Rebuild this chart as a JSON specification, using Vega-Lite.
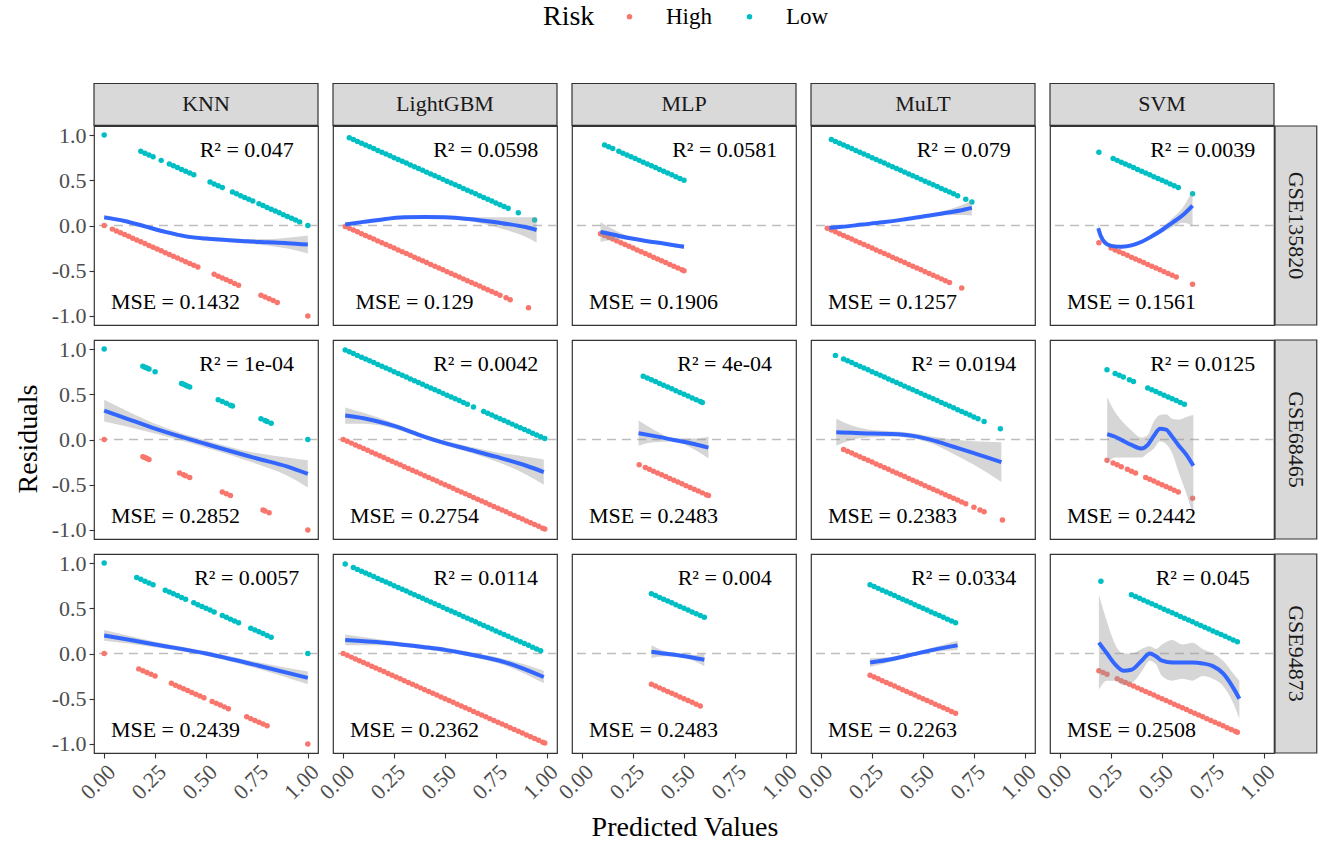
{
"$schema":"https://vega.github.io/schema/vega-lite/v6.json",
"background":"white",
"padding":{"left":14,"top":5,"right":4,"bottom":2},
"bounds":"flush",
"data":{"values":[
{"m":"KNN","g":"GSE135820","r":"Low","x":0,"y":1},{"m":"KNN","g":"GSE135820","r":"Low","x":0.18,"y":0.82},{"m":"KNN","g":"GSE135820","r":"Low","x":0.2,"y":0.8},{"m":"KNN","g":"GSE135820","r":"Low","x":0.22,"y":0.78},{"m":"KNN","g":"GSE135820","r":"Low","x":0.24,"y":0.76},{"m":"KNN","g":"GSE135820","r":"Low","x":0.28,"y":0.72},{"m":"KNN","g":"GSE135820","r":"Low","x":0.32,"y":0.68},{"m":"KNN","g":"GSE135820","r":"Low","x":0.34,"y":0.66},{"m":"KNN","g":"GSE135820","r":"Low","x":0.36,"y":0.64},{"m":"KNN","g":"GSE135820","r":"Low","x":0.38,"y":0.62},{"m":"KNN","g":"GSE135820","r":"Low","x":0.4,"y":0.6},{"m":"KNN","g":"GSE135820","r":"Low","x":0.42,"y":0.58},{"m":"KNN","g":"GSE135820","r":"Low","x":0.44,"y":0.56},{"m":"KNN","g":"GSE135820","r":"Low","x":0.52,"y":0.48},{"m":"KNN","g":"GSE135820","r":"Low","x":0.54,"y":0.46},{"m":"KNN","g":"GSE135820","r":"Low","x":0.56,"y":0.44},{"m":"KNN","g":"GSE135820","r":"Low","x":0.58,"y":0.42},{"m":"KNN","g":"GSE135820","r":"Low","x":0.63,"y":0.37},{"m":"KNN","g":"GSE135820","r":"Low","x":0.65,"y":0.35},{"m":"KNN","g":"GSE135820","r":"Low","x":0.67,"y":0.33},{"m":"KNN","g":"GSE135820","r":"Low","x":0.69,"y":0.31},{"m":"KNN","g":"GSE135820","r":"Low","x":0.71,"y":0.29},{"m":"KNN","g":"GSE135820","r":"Low","x":0.73,"y":0.27},{"m":"KNN","g":"GSE135820","r":"Low","x":0.76,"y":0.24},{"m":"KNN","g":"GSE135820","r":"Low","x":0.78,"y":0.22},{"m":"KNN","g":"GSE135820","r":"Low","x":0.8,"y":0.2},{"m":"KNN","g":"GSE135820","r":"Low","x":0.82,"y":0.18},{"m":"KNN","g":"GSE135820","r":"Low","x":0.84,"y":0.16},{"m":"KNN","g":"GSE135820","r":"Low","x":0.86,"y":0.14},{"m":"KNN","g":"GSE135820","r":"Low","x":0.88,"y":0.12},{"m":"KNN","g":"GSE135820","r":"Low","x":0.9,"y":0.1},{"m":"KNN","g":"GSE135820","r":"Low","x":0.92,"y":0.08},{"m":"KNN","g":"GSE135820","r":"Low","x":0.94,"y":0.06},{"m":"KNN","g":"GSE135820","r":"Low","x":0.96,"y":0.04},{"m":"KNN","g":"GSE135820","r":"Low","x":1,"y":0},
{"m":"KNN","g":"GSE135820","r":"High","x":0,"y":0},{"m":"KNN","g":"GSE135820","r":"High","x":0.04,"y":-0.04},{"m":"KNN","g":"GSE135820","r":"High","x":0.06,"y":-0.06},{"m":"KNN","g":"GSE135820","r":"High","x":0.08,"y":-0.08},{"m":"KNN","g":"GSE135820","r":"High","x":0.1,"y":-0.1},{"m":"KNN","g":"GSE135820","r":"High","x":0.12,"y":-0.12},{"m":"KNN","g":"GSE135820","r":"High","x":0.14,"y":-0.14},{"m":"KNN","g":"GSE135820","r":"High","x":0.16,"y":-0.16},{"m":"KNN","g":"GSE135820","r":"High","x":0.18,"y":-0.18},{"m":"KNN","g":"GSE135820","r":"High","x":0.2,"y":-0.2},{"m":"KNN","g":"GSE135820","r":"High","x":0.22,"y":-0.22},{"m":"KNN","g":"GSE135820","r":"High","x":0.24,"y":-0.24},{"m":"KNN","g":"GSE135820","r":"High","x":0.26,"y":-0.26},{"m":"KNN","g":"GSE135820","r":"High","x":0.28,"y":-0.28},{"m":"KNN","g":"GSE135820","r":"High","x":0.3,"y":-0.3},{"m":"KNN","g":"GSE135820","r":"High","x":0.32,"y":-0.32},{"m":"KNN","g":"GSE135820","r":"High","x":0.34,"y":-0.34},{"m":"KNN","g":"GSE135820","r":"High","x":0.36,"y":-0.36},{"m":"KNN","g":"GSE135820","r":"High","x":0.38,"y":-0.38},{"m":"KNN","g":"GSE135820","r":"High","x":0.4,"y":-0.4},{"m":"KNN","g":"GSE135820","r":"High","x":0.42,"y":-0.42},{"m":"KNN","g":"GSE135820","r":"High","x":0.44,"y":-0.44},{"m":"KNN","g":"GSE135820","r":"High","x":0.46,"y":-0.46},{"m":"KNN","g":"GSE135820","r":"High","x":0.54,"y":-0.54},{"m":"KNN","g":"GSE135820","r":"High","x":0.56,"y":-0.56},{"m":"KNN","g":"GSE135820","r":"High","x":0.58,"y":-0.58},{"m":"KNN","g":"GSE135820","r":"High","x":0.6,"y":-0.6},{"m":"KNN","g":"GSE135820","r":"High","x":0.62,"y":-0.62},{"m":"KNN","g":"GSE135820","r":"High","x":0.64,"y":-0.64},{"m":"KNN","g":"GSE135820","r":"High","x":0.66,"y":-0.66},{"m":"KNN","g":"GSE135820","r":"High","x":0.77,"y":-0.77},{"m":"KNN","g":"GSE135820","r":"High","x":0.79,"y":-0.79},{"m":"KNN","g":"GSE135820","r":"High","x":0.81,"y":-0.81},{"m":"KNN","g":"GSE135820","r":"High","x":0.83,"y":-0.83},{"m":"KNN","g":"GSE135820","r":"High","x":0.85,"y":-0.85},{"m":"KNN","g":"GSE135820","r":"High","x":1,"y":-1},
{"m":"LightGBM","g":"GSE135820","r":"Low","x":0.03,"y":0.97},{"m":"LightGBM","g":"GSE135820","r":"Low","x":0.05,"y":0.95},{"m":"LightGBM","g":"GSE135820","r":"Low","x":0.07,"y":0.93},{"m":"LightGBM","g":"GSE135820","r":"Low","x":0.09,"y":0.91},{"m":"LightGBM","g":"GSE135820","r":"Low","x":0.11,"y":0.89},{"m":"LightGBM","g":"GSE135820","r":"Low","x":0.13,"y":0.87},{"m":"LightGBM","g":"GSE135820","r":"Low","x":0.15,"y":0.85},{"m":"LightGBM","g":"GSE135820","r":"Low","x":0.17,"y":0.83},{"m":"LightGBM","g":"GSE135820","r":"Low","x":0.19,"y":0.81},{"m":"LightGBM","g":"GSE135820","r":"Low","x":0.21,"y":0.79},{"m":"LightGBM","g":"GSE135820","r":"Low","x":0.23,"y":0.77},{"m":"LightGBM","g":"GSE135820","r":"Low","x":0.25,"y":0.75},{"m":"LightGBM","g":"GSE135820","r":"Low","x":0.27,"y":0.73},{"m":"LightGBM","g":"GSE135820","r":"Low","x":0.29,"y":0.71},{"m":"LightGBM","g":"GSE135820","r":"Low","x":0.31,"y":0.69},{"m":"LightGBM","g":"GSE135820","r":"Low","x":0.33,"y":0.67},{"m":"LightGBM","g":"GSE135820","r":"Low","x":0.35,"y":0.65},{"m":"LightGBM","g":"GSE135820","r":"Low","x":0.37,"y":0.63},{"m":"LightGBM","g":"GSE135820","r":"Low","x":0.39,"y":0.61},{"m":"LightGBM","g":"GSE135820","r":"Low","x":0.41,"y":0.59},{"m":"LightGBM","g":"GSE135820","r":"Low","x":0.43,"y":0.57},{"m":"LightGBM","g":"GSE135820","r":"Low","x":0.45,"y":0.55},{"m":"LightGBM","g":"GSE135820","r":"Low","x":0.47,"y":0.53},{"m":"LightGBM","g":"GSE135820","r":"Low","x":0.49,"y":0.51},{"m":"LightGBM","g":"GSE135820","r":"Low","x":0.51,"y":0.49},{"m":"LightGBM","g":"GSE135820","r":"Low","x":0.53,"y":0.47},{"m":"LightGBM","g":"GSE135820","r":"Low","x":0.55,"y":0.45},{"m":"LightGBM","g":"GSE135820","r":"Low","x":0.57,"y":0.43},{"m":"LightGBM","g":"GSE135820","r":"Low","x":0.59,"y":0.41},{"m":"LightGBM","g":"GSE135820","r":"Low","x":0.61,"y":0.39},{"m":"LightGBM","g":"GSE135820","r":"Low","x":0.63,"y":0.37},{"m":"LightGBM","g":"GSE135820","r":"Low","x":0.65,"y":0.35},{"m":"LightGBM","g":"GSE135820","r":"Low","x":0.67,"y":0.33},{"m":"LightGBM","g":"GSE135820","r":"Low","x":0.69,"y":0.31},{"m":"LightGBM","g":"GSE135820","r":"Low","x":0.71,"y":0.29},{"m":"LightGBM","g":"GSE135820","r":"Low","x":0.73,"y":0.27},{"m":"LightGBM","g":"GSE135820","r":"Low","x":0.75,"y":0.25},{"m":"LightGBM","g":"GSE135820","r":"Low","x":0.77,"y":0.23},{"m":"LightGBM","g":"GSE135820","r":"Low","x":0.79,"y":0.21},{"m":"LightGBM","g":"GSE135820","r":"Low","x":0.81,"y":0.19},{"m":"LightGBM","g":"GSE135820","r":"Low","x":0.86,"y":0.14},{"m":"LightGBM","g":"GSE135820","r":"Low","x":0.94,"y":0.06},
{"m":"LightGBM","g":"GSE135820","r":"High","x":0.01,"y":-0.01},{"m":"LightGBM","g":"GSE135820","r":"High","x":0.03,"y":-0.03},{"m":"LightGBM","g":"GSE135820","r":"High","x":0.05,"y":-0.05},{"m":"LightGBM","g":"GSE135820","r":"High","x":0.07,"y":-0.07},{"m":"LightGBM","g":"GSE135820","r":"High","x":0.09,"y":-0.09},{"m":"LightGBM","g":"GSE135820","r":"High","x":0.11,"y":-0.11},{"m":"LightGBM","g":"GSE135820","r":"High","x":0.13,"y":-0.13},{"m":"LightGBM","g":"GSE135820","r":"High","x":0.15,"y":-0.15},{"m":"LightGBM","g":"GSE135820","r":"High","x":0.17,"y":-0.17},{"m":"LightGBM","g":"GSE135820","r":"High","x":0.19,"y":-0.19},{"m":"LightGBM","g":"GSE135820","r":"High","x":0.21,"y":-0.21},{"m":"LightGBM","g":"GSE135820","r":"High","x":0.23,"y":-0.23},{"m":"LightGBM","g":"GSE135820","r":"High","x":0.25,"y":-0.25},{"m":"LightGBM","g":"GSE135820","r":"High","x":0.27,"y":-0.27},{"m":"LightGBM","g":"GSE135820","r":"High","x":0.29,"y":-0.29},{"m":"LightGBM","g":"GSE135820","r":"High","x":0.31,"y":-0.31},{"m":"LightGBM","g":"GSE135820","r":"High","x":0.33,"y":-0.33},{"m":"LightGBM","g":"GSE135820","r":"High","x":0.35,"y":-0.35},{"m":"LightGBM","g":"GSE135820","r":"High","x":0.37,"y":-0.37},{"m":"LightGBM","g":"GSE135820","r":"High","x":0.39,"y":-0.39},{"m":"LightGBM","g":"GSE135820","r":"High","x":0.41,"y":-0.41},{"m":"LightGBM","g":"GSE135820","r":"High","x":0.43,"y":-0.43},{"m":"LightGBM","g":"GSE135820","r":"High","x":0.45,"y":-0.45},{"m":"LightGBM","g":"GSE135820","r":"High","x":0.47,"y":-0.47},{"m":"LightGBM","g":"GSE135820","r":"High","x":0.49,"y":-0.49},{"m":"LightGBM","g":"GSE135820","r":"High","x":0.51,"y":-0.51},{"m":"LightGBM","g":"GSE135820","r":"High","x":0.53,"y":-0.53},{"m":"LightGBM","g":"GSE135820","r":"High","x":0.55,"y":-0.55},{"m":"LightGBM","g":"GSE135820","r":"High","x":0.57,"y":-0.57},{"m":"LightGBM","g":"GSE135820","r":"High","x":0.59,"y":-0.59},{"m":"LightGBM","g":"GSE135820","r":"High","x":0.61,"y":-0.61},{"m":"LightGBM","g":"GSE135820","r":"High","x":0.63,"y":-0.63},{"m":"LightGBM","g":"GSE135820","r":"High","x":0.65,"y":-0.65},{"m":"LightGBM","g":"GSE135820","r":"High","x":0.67,"y":-0.67},{"m":"LightGBM","g":"GSE135820","r":"High","x":0.69,"y":-0.69},{"m":"LightGBM","g":"GSE135820","r":"High","x":0.71,"y":-0.71},{"m":"LightGBM","g":"GSE135820","r":"High","x":0.73,"y":-0.73},{"m":"LightGBM","g":"GSE135820","r":"High","x":0.75,"y":-0.75},{"m":"LightGBM","g":"GSE135820","r":"High","x":0.77,"y":-0.77},{"m":"LightGBM","g":"GSE135820","r":"High","x":0.8,"y":-0.8},{"m":"LightGBM","g":"GSE135820","r":"High","x":0.82,"y":-0.82},{"m":"LightGBM","g":"GSE135820","r":"High","x":0.91,"y":-0.91},
{"m":"MLP","g":"GSE135820","r":"Low","x":0.11,"y":0.89},{"m":"MLP","g":"GSE135820","r":"Low","x":0.13,"y":0.87},{"m":"MLP","g":"GSE135820","r":"Low","x":0.15,"y":0.85},{"m":"MLP","g":"GSE135820","r":"Low","x":0.18,"y":0.82},{"m":"MLP","g":"GSE135820","r":"Low","x":0.2,"y":0.8},{"m":"MLP","g":"GSE135820","r":"Low","x":0.22,"y":0.78},{"m":"MLP","g":"GSE135820","r":"Low","x":0.24,"y":0.76},{"m":"MLP","g":"GSE135820","r":"Low","x":0.26,"y":0.74},{"m":"MLP","g":"GSE135820","r":"Low","x":0.28,"y":0.72},{"m":"MLP","g":"GSE135820","r":"Low","x":0.3,"y":0.7},{"m":"MLP","g":"GSE135820","r":"Low","x":0.32,"y":0.68},{"m":"MLP","g":"GSE135820","r":"Low","x":0.34,"y":0.66},{"m":"MLP","g":"GSE135820","r":"Low","x":0.36,"y":0.64},{"m":"MLP","g":"GSE135820","r":"Low","x":0.38,"y":0.62},{"m":"MLP","g":"GSE135820","r":"Low","x":0.4,"y":0.6},{"m":"MLP","g":"GSE135820","r":"Low","x":0.42,"y":0.58},{"m":"MLP","g":"GSE135820","r":"Low","x":0.44,"y":0.56},{"m":"MLP","g":"GSE135820","r":"Low","x":0.46,"y":0.54},{"m":"MLP","g":"GSE135820","r":"Low","x":0.48,"y":0.52},{"m":"MLP","g":"GSE135820","r":"Low","x":0.5,"y":0.5},
{"m":"MLP","g":"GSE135820","r":"High","x":0.09,"y":-0.09},{"m":"MLP","g":"GSE135820","r":"High","x":0.11,"y":-0.11},{"m":"MLP","g":"GSE135820","r":"High","x":0.13,"y":-0.13},{"m":"MLP","g":"GSE135820","r":"High","x":0.15,"y":-0.15},{"m":"MLP","g":"GSE135820","r":"High","x":0.17,"y":-0.17},{"m":"MLP","g":"GSE135820","r":"High","x":0.19,"y":-0.19},{"m":"MLP","g":"GSE135820","r":"High","x":0.21,"y":-0.21},{"m":"MLP","g":"GSE135820","r":"High","x":0.23,"y":-0.23},{"m":"MLP","g":"GSE135820","r":"High","x":0.25,"y":-0.25},{"m":"MLP","g":"GSE135820","r":"High","x":0.27,"y":-0.27},{"m":"MLP","g":"GSE135820","r":"High","x":0.29,"y":-0.29},{"m":"MLP","g":"GSE135820","r":"High","x":0.31,"y":-0.31},{"m":"MLP","g":"GSE135820","r":"High","x":0.33,"y":-0.33},{"m":"MLP","g":"GSE135820","r":"High","x":0.35,"y":-0.35},{"m":"MLP","g":"GSE135820","r":"High","x":0.37,"y":-0.37},{"m":"MLP","g":"GSE135820","r":"High","x":0.39,"y":-0.39},{"m":"MLP","g":"GSE135820","r":"High","x":0.41,"y":-0.41},{"m":"MLP","g":"GSE135820","r":"High","x":0.43,"y":-0.43},{"m":"MLP","g":"GSE135820","r":"High","x":0.45,"y":-0.45},{"m":"MLP","g":"GSE135820","r":"High","x":0.47,"y":-0.47},{"m":"MLP","g":"GSE135820","r":"High","x":0.49,"y":-0.49},{"m":"MLP","g":"GSE135820","r":"High","x":0.5,"y":-0.5},
{"m":"MuLT","g":"GSE135820","r":"Low","x":0.05,"y":0.95},{"m":"MuLT","g":"GSE135820","r":"Low","x":0.07,"y":0.93},{"m":"MuLT","g":"GSE135820","r":"Low","x":0.09,"y":0.91},{"m":"MuLT","g":"GSE135820","r":"Low","x":0.11,"y":0.89},{"m":"MuLT","g":"GSE135820","r":"Low","x":0.13,"y":0.87},{"m":"MuLT","g":"GSE135820","r":"Low","x":0.15,"y":0.85},{"m":"MuLT","g":"GSE135820","r":"Low","x":0.17,"y":0.83},{"m":"MuLT","g":"GSE135820","r":"Low","x":0.19,"y":0.81},{"m":"MuLT","g":"GSE135820","r":"Low","x":0.21,"y":0.79},{"m":"MuLT","g":"GSE135820","r":"Low","x":0.23,"y":0.77},{"m":"MuLT","g":"GSE135820","r":"Low","x":0.25,"y":0.75},{"m":"MuLT","g":"GSE135820","r":"Low","x":0.27,"y":0.73},{"m":"MuLT","g":"GSE135820","r":"Low","x":0.29,"y":0.71},{"m":"MuLT","g":"GSE135820","r":"Low","x":0.31,"y":0.69},{"m":"MuLT","g":"GSE135820","r":"Low","x":0.33,"y":0.67},{"m":"MuLT","g":"GSE135820","r":"Low","x":0.35,"y":0.65},{"m":"MuLT","g":"GSE135820","r":"Low","x":0.37,"y":0.63},{"m":"MuLT","g":"GSE135820","r":"Low","x":0.39,"y":0.61},{"m":"MuLT","g":"GSE135820","r":"Low","x":0.41,"y":0.59},{"m":"MuLT","g":"GSE135820","r":"Low","x":0.43,"y":0.57},{"m":"MuLT","g":"GSE135820","r":"Low","x":0.45,"y":0.55},{"m":"MuLT","g":"GSE135820","r":"Low","x":0.47,"y":0.53},{"m":"MuLT","g":"GSE135820","r":"Low","x":0.49,"y":0.51},{"m":"MuLT","g":"GSE135820","r":"Low","x":0.51,"y":0.49},{"m":"MuLT","g":"GSE135820","r":"Low","x":0.53,"y":0.47},{"m":"MuLT","g":"GSE135820","r":"Low","x":0.55,"y":0.45},{"m":"MuLT","g":"GSE135820","r":"Low","x":0.57,"y":0.43},{"m":"MuLT","g":"GSE135820","r":"Low","x":0.59,"y":0.41},{"m":"MuLT","g":"GSE135820","r":"Low","x":0.61,"y":0.39},{"m":"MuLT","g":"GSE135820","r":"Low","x":0.63,"y":0.37},{"m":"MuLT","g":"GSE135820","r":"Low","x":0.65,"y":0.35},{"m":"MuLT","g":"GSE135820","r":"Low","x":0.67,"y":0.33},{"m":"MuLT","g":"GSE135820","r":"Low","x":0.71,"y":0.29},{"m":"MuLT","g":"GSE135820","r":"Low","x":0.74,"y":0.26},
{"m":"MuLT","g":"GSE135820","r":"High","x":0.03,"y":-0.03},{"m":"MuLT","g":"GSE135820","r":"High","x":0.05,"y":-0.05},{"m":"MuLT","g":"GSE135820","r":"High","x":0.07,"y":-0.07},{"m":"MuLT","g":"GSE135820","r":"High","x":0.09,"y":-0.09},{"m":"MuLT","g":"GSE135820","r":"High","x":0.11,"y":-0.11},{"m":"MuLT","g":"GSE135820","r":"High","x":0.13,"y":-0.13},{"m":"MuLT","g":"GSE135820","r":"High","x":0.15,"y":-0.15},{"m":"MuLT","g":"GSE135820","r":"High","x":0.17,"y":-0.17},{"m":"MuLT","g":"GSE135820","r":"High","x":0.19,"y":-0.19},{"m":"MuLT","g":"GSE135820","r":"High","x":0.21,"y":-0.21},{"m":"MuLT","g":"GSE135820","r":"High","x":0.23,"y":-0.23},{"m":"MuLT","g":"GSE135820","r":"High","x":0.25,"y":-0.25},{"m":"MuLT","g":"GSE135820","r":"High","x":0.27,"y":-0.27},{"m":"MuLT","g":"GSE135820","r":"High","x":0.29,"y":-0.29},{"m":"MuLT","g":"GSE135820","r":"High","x":0.31,"y":-0.31},{"m":"MuLT","g":"GSE135820","r":"High","x":0.33,"y":-0.33},{"m":"MuLT","g":"GSE135820","r":"High","x":0.35,"y":-0.35},{"m":"MuLT","g":"GSE135820","r":"High","x":0.37,"y":-0.37},{"m":"MuLT","g":"GSE135820","r":"High","x":0.39,"y":-0.39},{"m":"MuLT","g":"GSE135820","r":"High","x":0.41,"y":-0.41},{"m":"MuLT","g":"GSE135820","r":"High","x":0.43,"y":-0.43},{"m":"MuLT","g":"GSE135820","r":"High","x":0.45,"y":-0.45},{"m":"MuLT","g":"GSE135820","r":"High","x":0.47,"y":-0.47},{"m":"MuLT","g":"GSE135820","r":"High","x":0.49,"y":-0.49},{"m":"MuLT","g":"GSE135820","r":"High","x":0.51,"y":-0.51},{"m":"MuLT","g":"GSE135820","r":"High","x":0.53,"y":-0.53},{"m":"MuLT","g":"GSE135820","r":"High","x":0.55,"y":-0.55},{"m":"MuLT","g":"GSE135820","r":"High","x":0.57,"y":-0.57},{"m":"MuLT","g":"GSE135820","r":"High","x":0.59,"y":-0.59},{"m":"MuLT","g":"GSE135820","r":"High","x":0.61,"y":-0.61},{"m":"MuLT","g":"GSE135820","r":"High","x":0.63,"y":-0.63},{"m":"MuLT","g":"GSE135820","r":"High","x":0.69,"y":-0.69},
{"m":"SVM","g":"GSE135820","r":"Low","x":0.19,"y":0.81},{"m":"SVM","g":"GSE135820","r":"Low","x":0.26,"y":0.74},{"m":"SVM","g":"GSE135820","r":"Low","x":0.28,"y":0.72},{"m":"SVM","g":"GSE135820","r":"Low","x":0.3,"y":0.7},{"m":"SVM","g":"GSE135820","r":"Low","x":0.32,"y":0.68},{"m":"SVM","g":"GSE135820","r":"Low","x":0.34,"y":0.66},{"m":"SVM","g":"GSE135820","r":"Low","x":0.36,"y":0.64},{"m":"SVM","g":"GSE135820","r":"Low","x":0.38,"y":0.62},{"m":"SVM","g":"GSE135820","r":"Low","x":0.4,"y":0.6},{"m":"SVM","g":"GSE135820","r":"Low","x":0.42,"y":0.58},{"m":"SVM","g":"GSE135820","r":"Low","x":0.44,"y":0.56},{"m":"SVM","g":"GSE135820","r":"Low","x":0.46,"y":0.54},{"m":"SVM","g":"GSE135820","r":"Low","x":0.48,"y":0.52},{"m":"SVM","g":"GSE135820","r":"Low","x":0.5,"y":0.5},{"m":"SVM","g":"GSE135820","r":"Low","x":0.52,"y":0.48},{"m":"SVM","g":"GSE135820","r":"Low","x":0.54,"y":0.46},{"m":"SVM","g":"GSE135820","r":"Low","x":0.56,"y":0.44},{"m":"SVM","g":"GSE135820","r":"Low","x":0.58,"y":0.42},{"m":"SVM","g":"GSE135820","r":"Low","x":0.65,"y":0.35},
{"m":"SVM","g":"GSE135820","r":"High","x":0.19,"y":-0.19},{"m":"SVM","g":"GSE135820","r":"High","x":0.25,"y":-0.25},{"m":"SVM","g":"GSE135820","r":"High","x":0.27,"y":-0.27},{"m":"SVM","g":"GSE135820","r":"High","x":0.29,"y":-0.29},{"m":"SVM","g":"GSE135820","r":"High","x":0.31,"y":-0.31},{"m":"SVM","g":"GSE135820","r":"High","x":0.33,"y":-0.33},{"m":"SVM","g":"GSE135820","r":"High","x":0.35,"y":-0.35},{"m":"SVM","g":"GSE135820","r":"High","x":0.37,"y":-0.37},{"m":"SVM","g":"GSE135820","r":"High","x":0.39,"y":-0.39},{"m":"SVM","g":"GSE135820","r":"High","x":0.41,"y":-0.41},{"m":"SVM","g":"GSE135820","r":"High","x":0.43,"y":-0.43},{"m":"SVM","g":"GSE135820","r":"High","x":0.45,"y":-0.45},{"m":"SVM","g":"GSE135820","r":"High","x":0.47,"y":-0.47},{"m":"SVM","g":"GSE135820","r":"High","x":0.49,"y":-0.49},{"m":"SVM","g":"GSE135820","r":"High","x":0.51,"y":-0.51},{"m":"SVM","g":"GSE135820","r":"High","x":0.53,"y":-0.53},{"m":"SVM","g":"GSE135820","r":"High","x":0.55,"y":-0.55},{"m":"SVM","g":"GSE135820","r":"High","x":0.57,"y":-0.57},{"m":"SVM","g":"GSE135820","r":"High","x":0.65,"y":-0.65},
{"m":"KNN","g":"GSE68465","r":"Low","x":0,"y":1},{"m":"KNN","g":"GSE68465","r":"Low","x":0.19,"y":0.81},{"m":"KNN","g":"GSE68465","r":"Low","x":0.2,"y":0.8},{"m":"KNN","g":"GSE68465","r":"Low","x":0.21,"y":0.79},{"m":"KNN","g":"GSE68465","r":"Low","x":0.22,"y":0.78},{"m":"KNN","g":"GSE68465","r":"Low","x":0.25,"y":0.75},{"m":"KNN","g":"GSE68465","r":"Low","x":0.38,"y":0.62},{"m":"KNN","g":"GSE68465","r":"Low","x":0.39,"y":0.61},{"m":"KNN","g":"GSE68465","r":"Low","x":0.4,"y":0.6},{"m":"KNN","g":"GSE68465","r":"Low","x":0.41,"y":0.59},{"m":"KNN","g":"GSE68465","r":"Low","x":0.42,"y":0.58},{"m":"KNN","g":"GSE68465","r":"Low","x":0.56,"y":0.44},{"m":"KNN","g":"GSE68465","r":"Low","x":0.58,"y":0.42},{"m":"KNN","g":"GSE68465","r":"Low","x":0.6,"y":0.4},{"m":"KNN","g":"GSE68465","r":"Low","x":0.62,"y":0.38},{"m":"KNN","g":"GSE68465","r":"Low","x":0.63,"y":0.37},{"m":"KNN","g":"GSE68465","r":"Low","x":0.77,"y":0.23},{"m":"KNN","g":"GSE68465","r":"Low","x":0.79,"y":0.21},{"m":"KNN","g":"GSE68465","r":"Low","x":0.8,"y":0.2},{"m":"KNN","g":"GSE68465","r":"Low","x":0.82,"y":0.18},{"m":"KNN","g":"GSE68465","r":"Low","x":1,"y":0},
{"m":"KNN","g":"GSE68465","r":"High","x":0,"y":0},{"m":"KNN","g":"GSE68465","r":"High","x":0.19,"y":-0.19},{"m":"KNN","g":"GSE68465","r":"High","x":0.2,"y":-0.2},{"m":"KNN","g":"GSE68465","r":"High","x":0.21,"y":-0.21},{"m":"KNN","g":"GSE68465","r":"High","x":0.22,"y":-0.22},{"m":"KNN","g":"GSE68465","r":"High","x":0.37,"y":-0.37},{"m":"KNN","g":"GSE68465","r":"High","x":0.39,"y":-0.39},{"m":"KNN","g":"GSE68465","r":"High","x":0.4,"y":-0.4},{"m":"KNN","g":"GSE68465","r":"High","x":0.42,"y":-0.42},{"m":"KNN","g":"GSE68465","r":"High","x":0.58,"y":-0.58},{"m":"KNN","g":"GSE68465","r":"High","x":0.6,"y":-0.6},{"m":"KNN","g":"GSE68465","r":"High","x":0.62,"y":-0.62},{"m":"KNN","g":"GSE68465","r":"High","x":0.78,"y":-0.78},{"m":"KNN","g":"GSE68465","r":"High","x":0.79,"y":-0.79},{"m":"KNN","g":"GSE68465","r":"High","x":0.81,"y":-0.81},{"m":"KNN","g":"GSE68465","r":"High","x":1,"y":-1},
{"m":"LightGBM","g":"GSE68465","r":"Low","x":0.01,"y":0.99},{"m":"LightGBM","g":"GSE68465","r":"Low","x":0.03,"y":0.97},{"m":"LightGBM","g":"GSE68465","r":"Low","x":0.05,"y":0.95},{"m":"LightGBM","g":"GSE68465","r":"Low","x":0.07,"y":0.93},{"m":"LightGBM","g":"GSE68465","r":"Low","x":0.09,"y":0.91},{"m":"LightGBM","g":"GSE68465","r":"Low","x":0.11,"y":0.89},{"m":"LightGBM","g":"GSE68465","r":"Low","x":0.13,"y":0.87},{"m":"LightGBM","g":"GSE68465","r":"Low","x":0.15,"y":0.85},{"m":"LightGBM","g":"GSE68465","r":"Low","x":0.17,"y":0.83},{"m":"LightGBM","g":"GSE68465","r":"Low","x":0.19,"y":0.81},{"m":"LightGBM","g":"GSE68465","r":"Low","x":0.21,"y":0.79},{"m":"LightGBM","g":"GSE68465","r":"Low","x":0.23,"y":0.77},{"m":"LightGBM","g":"GSE68465","r":"Low","x":0.25,"y":0.75},{"m":"LightGBM","g":"GSE68465","r":"Low","x":0.27,"y":0.73},{"m":"LightGBM","g":"GSE68465","r":"Low","x":0.29,"y":0.71},{"m":"LightGBM","g":"GSE68465","r":"Low","x":0.31,"y":0.69},{"m":"LightGBM","g":"GSE68465","r":"Low","x":0.33,"y":0.67},{"m":"LightGBM","g":"GSE68465","r":"Low","x":0.35,"y":0.65},{"m":"LightGBM","g":"GSE68465","r":"Low","x":0.37,"y":0.63},{"m":"LightGBM","g":"GSE68465","r":"Low","x":0.39,"y":0.61},{"m":"LightGBM","g":"GSE68465","r":"Low","x":0.41,"y":0.59},{"m":"LightGBM","g":"GSE68465","r":"Low","x":0.43,"y":0.57},{"m":"LightGBM","g":"GSE68465","r":"Low","x":0.45,"y":0.55},{"m":"LightGBM","g":"GSE68465","r":"Low","x":0.47,"y":0.53},{"m":"LightGBM","g":"GSE68465","r":"Low","x":0.49,"y":0.51},{"m":"LightGBM","g":"GSE68465","r":"Low","x":0.51,"y":0.49},{"m":"LightGBM","g":"GSE68465","r":"Low","x":0.53,"y":0.47},{"m":"LightGBM","g":"GSE68465","r":"Low","x":0.55,"y":0.45},{"m":"LightGBM","g":"GSE68465","r":"Low","x":0.57,"y":0.43},{"m":"LightGBM","g":"GSE68465","r":"Low","x":0.59,"y":0.41},{"m":"LightGBM","g":"GSE68465","r":"Low","x":0.61,"y":0.39},{"m":"LightGBM","g":"GSE68465","r":"Low","x":0.64,"y":0.36},{"m":"LightGBM","g":"GSE68465","r":"Low","x":0.69,"y":0.31},{"m":"LightGBM","g":"GSE68465","r":"Low","x":0.71,"y":0.29},{"m":"LightGBM","g":"GSE68465","r":"Low","x":0.73,"y":0.27},{"m":"LightGBM","g":"GSE68465","r":"Low","x":0.75,"y":0.25},{"m":"LightGBM","g":"GSE68465","r":"Low","x":0.77,"y":0.23},{"m":"LightGBM","g":"GSE68465","r":"Low","x":0.79,"y":0.21},{"m":"LightGBM","g":"GSE68465","r":"Low","x":0.81,"y":0.19},{"m":"LightGBM","g":"GSE68465","r":"Low","x":0.83,"y":0.17},{"m":"LightGBM","g":"GSE68465","r":"Low","x":0.85,"y":0.15},{"m":"LightGBM","g":"GSE68465","r":"Low","x":0.87,"y":0.13},{"m":"LightGBM","g":"GSE68465","r":"Low","x":0.89,"y":0.11},{"m":"LightGBM","g":"GSE68465","r":"Low","x":0.91,"y":0.09},{"m":"LightGBM","g":"GSE68465","r":"Low","x":0.93,"y":0.07},{"m":"LightGBM","g":"GSE68465","r":"Low","x":0.95,"y":0.05},{"m":"LightGBM","g":"GSE68465","r":"Low","x":0.97,"y":0.03},{"m":"LightGBM","g":"GSE68465","r":"Low","x":0.99,"y":0.01},
{"m":"LightGBM","g":"GSE68465","r":"High","x":0,"y":0},{"m":"LightGBM","g":"GSE68465","r":"High","x":0.02,"y":-0.02},{"m":"LightGBM","g":"GSE68465","r":"High","x":0.04,"y":-0.04},{"m":"LightGBM","g":"GSE68465","r":"High","x":0.06,"y":-0.06},{"m":"LightGBM","g":"GSE68465","r":"High","x":0.08,"y":-0.08},{"m":"LightGBM","g":"GSE68465","r":"High","x":0.1,"y":-0.1},{"m":"LightGBM","g":"GSE68465","r":"High","x":0.12,"y":-0.12},{"m":"LightGBM","g":"GSE68465","r":"High","x":0.14,"y":-0.14},{"m":"LightGBM","g":"GSE68465","r":"High","x":0.16,"y":-0.16},{"m":"LightGBM","g":"GSE68465","r":"High","x":0.18,"y":-0.18},{"m":"LightGBM","g":"GSE68465","r":"High","x":0.2,"y":-0.2},{"m":"LightGBM","g":"GSE68465","r":"High","x":0.22,"y":-0.22},{"m":"LightGBM","g":"GSE68465","r":"High","x":0.24,"y":-0.24},{"m":"LightGBM","g":"GSE68465","r":"High","x":0.26,"y":-0.26},{"m":"LightGBM","g":"GSE68465","r":"High","x":0.28,"y":-0.28},{"m":"LightGBM","g":"GSE68465","r":"High","x":0.3,"y":-0.3},{"m":"LightGBM","g":"GSE68465","r":"High","x":0.32,"y":-0.32},{"m":"LightGBM","g":"GSE68465","r":"High","x":0.34,"y":-0.34},{"m":"LightGBM","g":"GSE68465","r":"High","x":0.36,"y":-0.36},{"m":"LightGBM","g":"GSE68465","r":"High","x":0.38,"y":-0.38},{"m":"LightGBM","g":"GSE68465","r":"High","x":0.4,"y":-0.4},{"m":"LightGBM","g":"GSE68465","r":"High","x":0.42,"y":-0.42},{"m":"LightGBM","g":"GSE68465","r":"High","x":0.44,"y":-0.44},{"m":"LightGBM","g":"GSE68465","r":"High","x":0.46,"y":-0.46},{"m":"LightGBM","g":"GSE68465","r":"High","x":0.48,"y":-0.48},{"m":"LightGBM","g":"GSE68465","r":"High","x":0.5,"y":-0.5},{"m":"LightGBM","g":"GSE68465","r":"High","x":0.52,"y":-0.52},{"m":"LightGBM","g":"GSE68465","r":"High","x":0.54,"y":-0.54},{"m":"LightGBM","g":"GSE68465","r":"High","x":0.56,"y":-0.56},{"m":"LightGBM","g":"GSE68465","r":"High","x":0.58,"y":-0.58},{"m":"LightGBM","g":"GSE68465","r":"High","x":0.6,"y":-0.6},{"m":"LightGBM","g":"GSE68465","r":"High","x":0.62,"y":-0.62},{"m":"LightGBM","g":"GSE68465","r":"High","x":0.64,"y":-0.64},{"m":"LightGBM","g":"GSE68465","r":"High","x":0.66,"y":-0.66},{"m":"LightGBM","g":"GSE68465","r":"High","x":0.68,"y":-0.68},{"m":"LightGBM","g":"GSE68465","r":"High","x":0.7,"y":-0.7},{"m":"LightGBM","g":"GSE68465","r":"High","x":0.72,"y":-0.72},{"m":"LightGBM","g":"GSE68465","r":"High","x":0.74,"y":-0.74},{"m":"LightGBM","g":"GSE68465","r":"High","x":0.76,"y":-0.76},{"m":"LightGBM","g":"GSE68465","r":"High","x":0.78,"y":-0.78},{"m":"LightGBM","g":"GSE68465","r":"High","x":0.8,"y":-0.8},{"m":"LightGBM","g":"GSE68465","r":"High","x":0.82,"y":-0.82},{"m":"LightGBM","g":"GSE68465","r":"High","x":0.84,"y":-0.84},{"m":"LightGBM","g":"GSE68465","r":"High","x":0.86,"y":-0.86},{"m":"LightGBM","g":"GSE68465","r":"High","x":0.88,"y":-0.88},{"m":"LightGBM","g":"GSE68465","r":"High","x":0.9,"y":-0.9},{"m":"LightGBM","g":"GSE68465","r":"High","x":0.92,"y":-0.92},{"m":"LightGBM","g":"GSE68465","r":"High","x":0.94,"y":-0.94},{"m":"LightGBM","g":"GSE68465","r":"High","x":0.96,"y":-0.96},{"m":"LightGBM","g":"GSE68465","r":"High","x":0.98,"y":-0.98},{"m":"LightGBM","g":"GSE68465","r":"High","x":0.99,"y":-0.99},
{"m":"MLP","g":"GSE68465","r":"Low","x":0.3,"y":0.7},{"m":"MLP","g":"GSE68465","r":"Low","x":0.32,"y":0.68},{"m":"MLP","g":"GSE68465","r":"Low","x":0.34,"y":0.66},{"m":"MLP","g":"GSE68465","r":"Low","x":0.36,"y":0.64},{"m":"MLP","g":"GSE68465","r":"Low","x":0.38,"y":0.62},{"m":"MLP","g":"GSE68465","r":"Low","x":0.4,"y":0.6},{"m":"MLP","g":"GSE68465","r":"Low","x":0.42,"y":0.58},{"m":"MLP","g":"GSE68465","r":"Low","x":0.44,"y":0.56},{"m":"MLP","g":"GSE68465","r":"Low","x":0.46,"y":0.54},{"m":"MLP","g":"GSE68465","r":"Low","x":0.48,"y":0.52},{"m":"MLP","g":"GSE68465","r":"Low","x":0.5,"y":0.5},{"m":"MLP","g":"GSE68465","r":"Low","x":0.52,"y":0.48},{"m":"MLP","g":"GSE68465","r":"Low","x":0.54,"y":0.46},{"m":"MLP","g":"GSE68465","r":"Low","x":0.56,"y":0.44},{"m":"MLP","g":"GSE68465","r":"Low","x":0.58,"y":0.42},{"m":"MLP","g":"GSE68465","r":"Low","x":0.59,"y":0.41},
{"m":"MLP","g":"GSE68465","r":"High","x":0.28,"y":-0.28},{"m":"MLP","g":"GSE68465","r":"High","x":0.31,"y":-0.31},{"m":"MLP","g":"GSE68465","r":"High","x":0.33,"y":-0.33},{"m":"MLP","g":"GSE68465","r":"High","x":0.35,"y":-0.35},{"m":"MLP","g":"GSE68465","r":"High","x":0.37,"y":-0.37},{"m":"MLP","g":"GSE68465","r":"High","x":0.39,"y":-0.39},{"m":"MLP","g":"GSE68465","r":"High","x":0.41,"y":-0.41},{"m":"MLP","g":"GSE68465","r":"High","x":0.43,"y":-0.43},{"m":"MLP","g":"GSE68465","r":"High","x":0.45,"y":-0.45},{"m":"MLP","g":"GSE68465","r":"High","x":0.47,"y":-0.47},{"m":"MLP","g":"GSE68465","r":"High","x":0.49,"y":-0.49},{"m":"MLP","g":"GSE68465","r":"High","x":0.51,"y":-0.51},{"m":"MLP","g":"GSE68465","r":"High","x":0.53,"y":-0.53},{"m":"MLP","g":"GSE68465","r":"High","x":0.55,"y":-0.55},{"m":"MLP","g":"GSE68465","r":"High","x":0.57,"y":-0.57},{"m":"MLP","g":"GSE68465","r":"High","x":0.59,"y":-0.59},{"m":"MLP","g":"GSE68465","r":"High","x":0.61,"y":-0.61},{"m":"MLP","g":"GSE68465","r":"High","x":0.62,"y":-0.62},
{"m":"MuLT","g":"GSE68465","r":"Low","x":0.07,"y":0.93},{"m":"MuLT","g":"GSE68465","r":"Low","x":0.11,"y":0.89},{"m":"MuLT","g":"GSE68465","r":"Low","x":0.13,"y":0.87},{"m":"MuLT","g":"GSE68465","r":"Low","x":0.15,"y":0.85},{"m":"MuLT","g":"GSE68465","r":"Low","x":0.17,"y":0.83},{"m":"MuLT","g":"GSE68465","r":"Low","x":0.19,"y":0.81},{"m":"MuLT","g":"GSE68465","r":"Low","x":0.21,"y":0.79},{"m":"MuLT","g":"GSE68465","r":"Low","x":0.23,"y":0.77},{"m":"MuLT","g":"GSE68465","r":"Low","x":0.25,"y":0.75},{"m":"MuLT","g":"GSE68465","r":"Low","x":0.27,"y":0.73},{"m":"MuLT","g":"GSE68465","r":"Low","x":0.29,"y":0.71},{"m":"MuLT","g":"GSE68465","r":"Low","x":0.31,"y":0.69},{"m":"MuLT","g":"GSE68465","r":"Low","x":0.33,"y":0.67},{"m":"MuLT","g":"GSE68465","r":"Low","x":0.35,"y":0.65},{"m":"MuLT","g":"GSE68465","r":"Low","x":0.37,"y":0.63},{"m":"MuLT","g":"GSE68465","r":"Low","x":0.39,"y":0.61},{"m":"MuLT","g":"GSE68465","r":"Low","x":0.41,"y":0.59},{"m":"MuLT","g":"GSE68465","r":"Low","x":0.43,"y":0.57},{"m":"MuLT","g":"GSE68465","r":"Low","x":0.45,"y":0.55},{"m":"MuLT","g":"GSE68465","r":"Low","x":0.47,"y":0.53},{"m":"MuLT","g":"GSE68465","r":"Low","x":0.49,"y":0.51},{"m":"MuLT","g":"GSE68465","r":"Low","x":0.51,"y":0.49},{"m":"MuLT","g":"GSE68465","r":"Low","x":0.53,"y":0.47},{"m":"MuLT","g":"GSE68465","r":"Low","x":0.55,"y":0.45},{"m":"MuLT","g":"GSE68465","r":"Low","x":0.57,"y":0.43},{"m":"MuLT","g":"GSE68465","r":"Low","x":0.59,"y":0.41},{"m":"MuLT","g":"GSE68465","r":"Low","x":0.61,"y":0.39},{"m":"MuLT","g":"GSE68465","r":"Low","x":0.63,"y":0.37},{"m":"MuLT","g":"GSE68465","r":"Low","x":0.65,"y":0.35},{"m":"MuLT","g":"GSE68465","r":"Low","x":0.67,"y":0.33},{"m":"MuLT","g":"GSE68465","r":"Low","x":0.69,"y":0.31},{"m":"MuLT","g":"GSE68465","r":"Low","x":0.71,"y":0.29},{"m":"MuLT","g":"GSE68465","r":"Low","x":0.73,"y":0.27},{"m":"MuLT","g":"GSE68465","r":"Low","x":0.75,"y":0.25},{"m":"MuLT","g":"GSE68465","r":"Low","x":0.77,"y":0.23},{"m":"MuLT","g":"GSE68465","r":"Low","x":0.8,"y":0.2},{"m":"MuLT","g":"GSE68465","r":"Low","x":0.88,"y":0.12},
{"m":"MuLT","g":"GSE68465","r":"High","x":0.11,"y":-0.11},{"m":"MuLT","g":"GSE68465","r":"High","x":0.13,"y":-0.13},{"m":"MuLT","g":"GSE68465","r":"High","x":0.15,"y":-0.15},{"m":"MuLT","g":"GSE68465","r":"High","x":0.17,"y":-0.17},{"m":"MuLT","g":"GSE68465","r":"High","x":0.19,"y":-0.19},{"m":"MuLT","g":"GSE68465","r":"High","x":0.21,"y":-0.21},{"m":"MuLT","g":"GSE68465","r":"High","x":0.23,"y":-0.23},{"m":"MuLT","g":"GSE68465","r":"High","x":0.25,"y":-0.25},{"m":"MuLT","g":"GSE68465","r":"High","x":0.27,"y":-0.27},{"m":"MuLT","g":"GSE68465","r":"High","x":0.29,"y":-0.29},{"m":"MuLT","g":"GSE68465","r":"High","x":0.31,"y":-0.31},{"m":"MuLT","g":"GSE68465","r":"High","x":0.33,"y":-0.33},{"m":"MuLT","g":"GSE68465","r":"High","x":0.35,"y":-0.35},{"m":"MuLT","g":"GSE68465","r":"High","x":0.37,"y":-0.37},{"m":"MuLT","g":"GSE68465","r":"High","x":0.39,"y":-0.39},{"m":"MuLT","g":"GSE68465","r":"High","x":0.41,"y":-0.41},{"m":"MuLT","g":"GSE68465","r":"High","x":0.43,"y":-0.43},{"m":"MuLT","g":"GSE68465","r":"High","x":0.45,"y":-0.45},{"m":"MuLT","g":"GSE68465","r":"High","x":0.47,"y":-0.47},{"m":"MuLT","g":"GSE68465","r":"High","x":0.49,"y":-0.49},{"m":"MuLT","g":"GSE68465","r":"High","x":0.51,"y":-0.51},{"m":"MuLT","g":"GSE68465","r":"High","x":0.53,"y":-0.53},{"m":"MuLT","g":"GSE68465","r":"High","x":0.55,"y":-0.55},{"m":"MuLT","g":"GSE68465","r":"High","x":0.57,"y":-0.57},{"m":"MuLT","g":"GSE68465","r":"High","x":0.59,"y":-0.59},{"m":"MuLT","g":"GSE68465","r":"High","x":0.61,"y":-0.61},{"m":"MuLT","g":"GSE68465","r":"High","x":0.63,"y":-0.63},{"m":"MuLT","g":"GSE68465","r":"High","x":0.65,"y":-0.65},{"m":"MuLT","g":"GSE68465","r":"High","x":0.67,"y":-0.67},{"m":"MuLT","g":"GSE68465","r":"High","x":0.69,"y":-0.69},{"m":"MuLT","g":"GSE68465","r":"High","x":0.71,"y":-0.71},{"m":"MuLT","g":"GSE68465","r":"High","x":0.75,"y":-0.75},{"m":"MuLT","g":"GSE68465","r":"High","x":0.78,"y":-0.78},{"m":"MuLT","g":"GSE68465","r":"High","x":0.8,"y":-0.8},{"m":"MuLT","g":"GSE68465","r":"High","x":0.89,"y":-0.89},
{"m":"SVM","g":"GSE68465","r":"Low","x":0.23,"y":0.77},{"m":"SVM","g":"GSE68465","r":"Low","x":0.27,"y":0.73},{"m":"SVM","g":"GSE68465","r":"Low","x":0.29,"y":0.71},{"m":"SVM","g":"GSE68465","r":"Low","x":0.31,"y":0.69},{"m":"SVM","g":"GSE68465","r":"Low","x":0.34,"y":0.66},{"m":"SVM","g":"GSE68465","r":"Low","x":0.36,"y":0.64},{"m":"SVM","g":"GSE68465","r":"Low","x":0.43,"y":0.57},{"m":"SVM","g":"GSE68465","r":"Low","x":0.45,"y":0.55},{"m":"SVM","g":"GSE68465","r":"Low","x":0.47,"y":0.53},{"m":"SVM","g":"GSE68465","r":"Low","x":0.49,"y":0.51},{"m":"SVM","g":"GSE68465","r":"Low","x":0.51,"y":0.49},{"m":"SVM","g":"GSE68465","r":"Low","x":0.53,"y":0.47},{"m":"SVM","g":"GSE68465","r":"Low","x":0.55,"y":0.45},{"m":"SVM","g":"GSE68465","r":"Low","x":0.57,"y":0.43},{"m":"SVM","g":"GSE68465","r":"Low","x":0.59,"y":0.41},{"m":"SVM","g":"GSE68465","r":"Low","x":0.61,"y":0.39},
{"m":"SVM","g":"GSE68465","r":"High","x":0.23,"y":-0.23},{"m":"SVM","g":"GSE68465","r":"High","x":0.26,"y":-0.26},{"m":"SVM","g":"GSE68465","r":"High","x":0.28,"y":-0.28},{"m":"SVM","g":"GSE68465","r":"High","x":0.3,"y":-0.3},{"m":"SVM","g":"GSE68465","r":"High","x":0.33,"y":-0.33},{"m":"SVM","g":"GSE68465","r":"High","x":0.35,"y":-0.35},{"m":"SVM","g":"GSE68465","r":"High","x":0.37,"y":-0.37},{"m":"SVM","g":"GSE68465","r":"High","x":0.42,"y":-0.42},{"m":"SVM","g":"GSE68465","r":"High","x":0.44,"y":-0.44},{"m":"SVM","g":"GSE68465","r":"High","x":0.46,"y":-0.46},{"m":"SVM","g":"GSE68465","r":"High","x":0.48,"y":-0.48},{"m":"SVM","g":"GSE68465","r":"High","x":0.5,"y":-0.5},{"m":"SVM","g":"GSE68465","r":"High","x":0.52,"y":-0.52},{"m":"SVM","g":"GSE68465","r":"High","x":0.54,"y":-0.54},{"m":"SVM","g":"GSE68465","r":"High","x":0.56,"y":-0.56},{"m":"SVM","g":"GSE68465","r":"High","x":0.58,"y":-0.58},{"m":"SVM","g":"GSE68465","r":"High","x":0.65,"y":-0.65},
{"m":"KNN","g":"GSE94873","r":"Low","x":0,"y":1},{"m":"KNN","g":"GSE94873","r":"Low","x":0.16,"y":0.84},{"m":"KNN","g":"GSE94873","r":"Low","x":0.18,"y":0.82},{"m":"KNN","g":"GSE94873","r":"Low","x":0.2,"y":0.8},{"m":"KNN","g":"GSE94873","r":"Low","x":0.22,"y":0.78},{"m":"KNN","g":"GSE94873","r":"Low","x":0.24,"y":0.76},{"m":"KNN","g":"GSE94873","r":"Low","x":0.3,"y":0.7},{"m":"KNN","g":"GSE94873","r":"Low","x":0.32,"y":0.68},{"m":"KNN","g":"GSE94873","r":"Low","x":0.34,"y":0.66},{"m":"KNN","g":"GSE94873","r":"Low","x":0.36,"y":0.64},{"m":"KNN","g":"GSE94873","r":"Low","x":0.38,"y":0.62},{"m":"KNN","g":"GSE94873","r":"Low","x":0.4,"y":0.6},{"m":"KNN","g":"GSE94873","r":"Low","x":0.44,"y":0.56},{"m":"KNN","g":"GSE94873","r":"Low","x":0.46,"y":0.54},{"m":"KNN","g":"GSE94873","r":"Low","x":0.48,"y":0.52},{"m":"KNN","g":"GSE94873","r":"Low","x":0.5,"y":0.5},{"m":"KNN","g":"GSE94873","r":"Low","x":0.52,"y":0.48},{"m":"KNN","g":"GSE94873","r":"Low","x":0.54,"y":0.46},{"m":"KNN","g":"GSE94873","r":"Low","x":0.58,"y":0.42},{"m":"KNN","g":"GSE94873","r":"Low","x":0.6,"y":0.4},{"m":"KNN","g":"GSE94873","r":"Low","x":0.62,"y":0.38},{"m":"KNN","g":"GSE94873","r":"Low","x":0.64,"y":0.36},{"m":"KNN","g":"GSE94873","r":"Low","x":0.66,"y":0.34},{"m":"KNN","g":"GSE94873","r":"Low","x":0.72,"y":0.28},{"m":"KNN","g":"GSE94873","r":"Low","x":0.74,"y":0.26},{"m":"KNN","g":"GSE94873","r":"Low","x":0.76,"y":0.24},{"m":"KNN","g":"GSE94873","r":"Low","x":0.78,"y":0.22},{"m":"KNN","g":"GSE94873","r":"Low","x":0.8,"y":0.2},{"m":"KNN","g":"GSE94873","r":"Low","x":0.82,"y":0.18},{"m":"KNN","g":"GSE94873","r":"Low","x":1,"y":0},
{"m":"KNN","g":"GSE94873","r":"High","x":0,"y":0},{"m":"KNN","g":"GSE94873","r":"High","x":0.17,"y":-0.17},{"m":"KNN","g":"GSE94873","r":"High","x":0.19,"y":-0.19},{"m":"KNN","g":"GSE94873","r":"High","x":0.21,"y":-0.21},{"m":"KNN","g":"GSE94873","r":"High","x":0.23,"y":-0.23},{"m":"KNN","g":"GSE94873","r":"High","x":0.25,"y":-0.25},{"m":"KNN","g":"GSE94873","r":"High","x":0.33,"y":-0.33},{"m":"KNN","g":"GSE94873","r":"High","x":0.35,"y":-0.35},{"m":"KNN","g":"GSE94873","r":"High","x":0.37,"y":-0.37},{"m":"KNN","g":"GSE94873","r":"High","x":0.39,"y":-0.39},{"m":"KNN","g":"GSE94873","r":"High","x":0.41,"y":-0.41},{"m":"KNN","g":"GSE94873","r":"High","x":0.43,"y":-0.43},{"m":"KNN","g":"GSE94873","r":"High","x":0.45,"y":-0.45},{"m":"KNN","g":"GSE94873","r":"High","x":0.47,"y":-0.47},{"m":"KNN","g":"GSE94873","r":"High","x":0.49,"y":-0.49},{"m":"KNN","g":"GSE94873","r":"High","x":0.53,"y":-0.53},{"m":"KNN","g":"GSE94873","r":"High","x":0.55,"y":-0.55},{"m":"KNN","g":"GSE94873","r":"High","x":0.57,"y":-0.57},{"m":"KNN","g":"GSE94873","r":"High","x":0.59,"y":-0.59},{"m":"KNN","g":"GSE94873","r":"High","x":0.61,"y":-0.61},{"m":"KNN","g":"GSE94873","r":"High","x":0.7,"y":-0.7},{"m":"KNN","g":"GSE94873","r":"High","x":0.72,"y":-0.72},{"m":"KNN","g":"GSE94873","r":"High","x":0.74,"y":-0.74},{"m":"KNN","g":"GSE94873","r":"High","x":0.76,"y":-0.76},{"m":"KNN","g":"GSE94873","r":"High","x":0.78,"y":-0.78},{"m":"KNN","g":"GSE94873","r":"High","x":0.8,"y":-0.8},{"m":"KNN","g":"GSE94873","r":"High","x":1,"y":-1},
{"m":"LightGBM","g":"GSE94873","r":"Low","x":0.01,"y":0.99},{"m":"LightGBM","g":"GSE94873","r":"Low","x":0.05,"y":0.95},{"m":"LightGBM","g":"GSE94873","r":"Low","x":0.07,"y":0.93},{"m":"LightGBM","g":"GSE94873","r":"Low","x":0.09,"y":0.91},{"m":"LightGBM","g":"GSE94873","r":"Low","x":0.11,"y":0.89},{"m":"LightGBM","g":"GSE94873","r":"Low","x":0.13,"y":0.87},{"m":"LightGBM","g":"GSE94873","r":"Low","x":0.15,"y":0.85},{"m":"LightGBM","g":"GSE94873","r":"Low","x":0.17,"y":0.83},{"m":"LightGBM","g":"GSE94873","r":"Low","x":0.19,"y":0.81},{"m":"LightGBM","g":"GSE94873","r":"Low","x":0.21,"y":0.79},{"m":"LightGBM","g":"GSE94873","r":"Low","x":0.23,"y":0.77},{"m":"LightGBM","g":"GSE94873","r":"Low","x":0.25,"y":0.75},{"m":"LightGBM","g":"GSE94873","r":"Low","x":0.27,"y":0.73},{"m":"LightGBM","g":"GSE94873","r":"Low","x":0.29,"y":0.71},{"m":"LightGBM","g":"GSE94873","r":"Low","x":0.31,"y":0.69},{"m":"LightGBM","g":"GSE94873","r":"Low","x":0.33,"y":0.67},{"m":"LightGBM","g":"GSE94873","r":"Low","x":0.35,"y":0.65},{"m":"LightGBM","g":"GSE94873","r":"Low","x":0.37,"y":0.63},{"m":"LightGBM","g":"GSE94873","r":"Low","x":0.39,"y":0.61},{"m":"LightGBM","g":"GSE94873","r":"Low","x":0.41,"y":0.59},{"m":"LightGBM","g":"GSE94873","r":"Low","x":0.43,"y":0.57},{"m":"LightGBM","g":"GSE94873","r":"Low","x":0.45,"y":0.55},{"m":"LightGBM","g":"GSE94873","r":"Low","x":0.47,"y":0.53},{"m":"LightGBM","g":"GSE94873","r":"Low","x":0.49,"y":0.51},{"m":"LightGBM","g":"GSE94873","r":"Low","x":0.51,"y":0.49},{"m":"LightGBM","g":"GSE94873","r":"Low","x":0.53,"y":0.47},{"m":"LightGBM","g":"GSE94873","r":"Low","x":0.55,"y":0.45},{"m":"LightGBM","g":"GSE94873","r":"Low","x":0.57,"y":0.43},{"m":"LightGBM","g":"GSE94873","r":"Low","x":0.59,"y":0.41},{"m":"LightGBM","g":"GSE94873","r":"Low","x":0.61,"y":0.39},{"m":"LightGBM","g":"GSE94873","r":"Low","x":0.63,"y":0.37},{"m":"LightGBM","g":"GSE94873","r":"Low","x":0.65,"y":0.35},{"m":"LightGBM","g":"GSE94873","r":"Low","x":0.67,"y":0.33},{"m":"LightGBM","g":"GSE94873","r":"Low","x":0.69,"y":0.31},{"m":"LightGBM","g":"GSE94873","r":"Low","x":0.71,"y":0.29},{"m":"LightGBM","g":"GSE94873","r":"Low","x":0.73,"y":0.27},{"m":"LightGBM","g":"GSE94873","r":"Low","x":0.75,"y":0.25},{"m":"LightGBM","g":"GSE94873","r":"Low","x":0.77,"y":0.23},{"m":"LightGBM","g":"GSE94873","r":"Low","x":0.79,"y":0.21},{"m":"LightGBM","g":"GSE94873","r":"Low","x":0.81,"y":0.19},{"m":"LightGBM","g":"GSE94873","r":"Low","x":0.83,"y":0.17},{"m":"LightGBM","g":"GSE94873","r":"Low","x":0.85,"y":0.15},{"m":"LightGBM","g":"GSE94873","r":"Low","x":0.87,"y":0.13},{"m":"LightGBM","g":"GSE94873","r":"Low","x":0.89,"y":0.11},{"m":"LightGBM","g":"GSE94873","r":"Low","x":0.91,"y":0.09},{"m":"LightGBM","g":"GSE94873","r":"Low","x":0.93,"y":0.07},{"m":"LightGBM","g":"GSE94873","r":"Low","x":0.95,"y":0.05},{"m":"LightGBM","g":"GSE94873","r":"Low","x":0.97,"y":0.03},
{"m":"LightGBM","g":"GSE94873","r":"High","x":0,"y":0},{"m":"LightGBM","g":"GSE94873","r":"High","x":0.02,"y":-0.02},{"m":"LightGBM","g":"GSE94873","r":"High","x":0.04,"y":-0.04},{"m":"LightGBM","g":"GSE94873","r":"High","x":0.06,"y":-0.06},{"m":"LightGBM","g":"GSE94873","r":"High","x":0.08,"y":-0.08},{"m":"LightGBM","g":"GSE94873","r":"High","x":0.1,"y":-0.1},{"m":"LightGBM","g":"GSE94873","r":"High","x":0.12,"y":-0.12},{"m":"LightGBM","g":"GSE94873","r":"High","x":0.14,"y":-0.14},{"m":"LightGBM","g":"GSE94873","r":"High","x":0.16,"y":-0.16},{"m":"LightGBM","g":"GSE94873","r":"High","x":0.18,"y":-0.18},{"m":"LightGBM","g":"GSE94873","r":"High","x":0.2,"y":-0.2},{"m":"LightGBM","g":"GSE94873","r":"High","x":0.22,"y":-0.22},{"m":"LightGBM","g":"GSE94873","r":"High","x":0.24,"y":-0.24},{"m":"LightGBM","g":"GSE94873","r":"High","x":0.26,"y":-0.26},{"m":"LightGBM","g":"GSE94873","r":"High","x":0.28,"y":-0.28},{"m":"LightGBM","g":"GSE94873","r":"High","x":0.3,"y":-0.3},{"m":"LightGBM","g":"GSE94873","r":"High","x":0.32,"y":-0.32},{"m":"LightGBM","g":"GSE94873","r":"High","x":0.34,"y":-0.34},{"m":"LightGBM","g":"GSE94873","r":"High","x":0.36,"y":-0.36},{"m":"LightGBM","g":"GSE94873","r":"High","x":0.38,"y":-0.38},{"m":"LightGBM","g":"GSE94873","r":"High","x":0.4,"y":-0.4},{"m":"LightGBM","g":"GSE94873","r":"High","x":0.42,"y":-0.42},{"m":"LightGBM","g":"GSE94873","r":"High","x":0.44,"y":-0.44},{"m":"LightGBM","g":"GSE94873","r":"High","x":0.46,"y":-0.46},{"m":"LightGBM","g":"GSE94873","r":"High","x":0.48,"y":-0.48},{"m":"LightGBM","g":"GSE94873","r":"High","x":0.5,"y":-0.5},{"m":"LightGBM","g":"GSE94873","r":"High","x":0.52,"y":-0.52},{"m":"LightGBM","g":"GSE94873","r":"High","x":0.54,"y":-0.54},{"m":"LightGBM","g":"GSE94873","r":"High","x":0.56,"y":-0.56},{"m":"LightGBM","g":"GSE94873","r":"High","x":0.58,"y":-0.58},{"m":"LightGBM","g":"GSE94873","r":"High","x":0.6,"y":-0.6},{"m":"LightGBM","g":"GSE94873","r":"High","x":0.62,"y":-0.62},{"m":"LightGBM","g":"GSE94873","r":"High","x":0.64,"y":-0.64},{"m":"LightGBM","g":"GSE94873","r":"High","x":0.66,"y":-0.66},{"m":"LightGBM","g":"GSE94873","r":"High","x":0.68,"y":-0.68},{"m":"LightGBM","g":"GSE94873","r":"High","x":0.7,"y":-0.7},{"m":"LightGBM","g":"GSE94873","r":"High","x":0.72,"y":-0.72},{"m":"LightGBM","g":"GSE94873","r":"High","x":0.74,"y":-0.74},{"m":"LightGBM","g":"GSE94873","r":"High","x":0.76,"y":-0.76},{"m":"LightGBM","g":"GSE94873","r":"High","x":0.78,"y":-0.78},{"m":"LightGBM","g":"GSE94873","r":"High","x":0.8,"y":-0.8},{"m":"LightGBM","g":"GSE94873","r":"High","x":0.82,"y":-0.82},{"m":"LightGBM","g":"GSE94873","r":"High","x":0.84,"y":-0.84},{"m":"LightGBM","g":"GSE94873","r":"High","x":0.86,"y":-0.86},{"m":"LightGBM","g":"GSE94873","r":"High","x":0.88,"y":-0.88},{"m":"LightGBM","g":"GSE94873","r":"High","x":0.9,"y":-0.9},{"m":"LightGBM","g":"GSE94873","r":"High","x":0.92,"y":-0.92},{"m":"LightGBM","g":"GSE94873","r":"High","x":0.94,"y":-0.94},{"m":"LightGBM","g":"GSE94873","r":"High","x":0.96,"y":-0.96},{"m":"LightGBM","g":"GSE94873","r":"High","x":0.98,"y":-0.98},{"m":"LightGBM","g":"GSE94873","r":"High","x":0.99,"y":-0.99},
{"m":"MLP","g":"GSE94873","r":"Low","x":0.34,"y":0.66},{"m":"MLP","g":"GSE94873","r":"Low","x":0.36,"y":0.64},{"m":"MLP","g":"GSE94873","r":"Low","x":0.38,"y":0.62},{"m":"MLP","g":"GSE94873","r":"Low","x":0.4,"y":0.6},{"m":"MLP","g":"GSE94873","r":"Low","x":0.42,"y":0.58},{"m":"MLP","g":"GSE94873","r":"Low","x":0.44,"y":0.56},{"m":"MLP","g":"GSE94873","r":"Low","x":0.46,"y":0.54},{"m":"MLP","g":"GSE94873","r":"Low","x":0.48,"y":0.52},{"m":"MLP","g":"GSE94873","r":"Low","x":0.5,"y":0.5},{"m":"MLP","g":"GSE94873","r":"Low","x":0.52,"y":0.48},{"m":"MLP","g":"GSE94873","r":"Low","x":0.54,"y":0.46},{"m":"MLP","g":"GSE94873","r":"Low","x":0.56,"y":0.44},{"m":"MLP","g":"GSE94873","r":"Low","x":0.58,"y":0.42},{"m":"MLP","g":"GSE94873","r":"Low","x":0.6,"y":0.4},
{"m":"MLP","g":"GSE94873","r":"High","x":0.34,"y":-0.34},{"m":"MLP","g":"GSE94873","r":"High","x":0.36,"y":-0.36},{"m":"MLP","g":"GSE94873","r":"High","x":0.38,"y":-0.38},{"m":"MLP","g":"GSE94873","r":"High","x":0.4,"y":-0.4},{"m":"MLP","g":"GSE94873","r":"High","x":0.42,"y":-0.42},{"m":"MLP","g":"GSE94873","r":"High","x":0.44,"y":-0.44},{"m":"MLP","g":"GSE94873","r":"High","x":0.46,"y":-0.46},{"m":"MLP","g":"GSE94873","r":"High","x":0.48,"y":-0.48},{"m":"MLP","g":"GSE94873","r":"High","x":0.5,"y":-0.5},{"m":"MLP","g":"GSE94873","r":"High","x":0.52,"y":-0.52},{"m":"MLP","g":"GSE94873","r":"High","x":0.54,"y":-0.54},{"m":"MLP","g":"GSE94873","r":"High","x":0.56,"y":-0.56},{"m":"MLP","g":"GSE94873","r":"High","x":0.58,"y":-0.58},
{"m":"MuLT","g":"GSE94873","r":"Low","x":0.24,"y":0.76},{"m":"MuLT","g":"GSE94873","r":"Low","x":0.26,"y":0.74},{"m":"MuLT","g":"GSE94873","r":"Low","x":0.28,"y":0.72},{"m":"MuLT","g":"GSE94873","r":"Low","x":0.3,"y":0.7},{"m":"MuLT","g":"GSE94873","r":"Low","x":0.32,"y":0.68},{"m":"MuLT","g":"GSE94873","r":"Low","x":0.34,"y":0.66},{"m":"MuLT","g":"GSE94873","r":"Low","x":0.36,"y":0.64},{"m":"MuLT","g":"GSE94873","r":"Low","x":0.38,"y":0.62},{"m":"MuLT","g":"GSE94873","r":"Low","x":0.4,"y":0.6},{"m":"MuLT","g":"GSE94873","r":"Low","x":0.42,"y":0.58},{"m":"MuLT","g":"GSE94873","r":"Low","x":0.44,"y":0.56},{"m":"MuLT","g":"GSE94873","r":"Low","x":0.46,"y":0.54},{"m":"MuLT","g":"GSE94873","r":"Low","x":0.48,"y":0.52},{"m":"MuLT","g":"GSE94873","r":"Low","x":0.5,"y":0.5},{"m":"MuLT","g":"GSE94873","r":"Low","x":0.52,"y":0.48},{"m":"MuLT","g":"GSE94873","r":"Low","x":0.54,"y":0.46},{"m":"MuLT","g":"GSE94873","r":"Low","x":0.56,"y":0.44},{"m":"MuLT","g":"GSE94873","r":"Low","x":0.58,"y":0.42},{"m":"MuLT","g":"GSE94873","r":"Low","x":0.6,"y":0.4},{"m":"MuLT","g":"GSE94873","r":"Low","x":0.62,"y":0.38},{"m":"MuLT","g":"GSE94873","r":"Low","x":0.64,"y":0.36},{"m":"MuLT","g":"GSE94873","r":"Low","x":0.66,"y":0.34},
{"m":"MuLT","g":"GSE94873","r":"High","x":0.24,"y":-0.24},{"m":"MuLT","g":"GSE94873","r":"High","x":0.26,"y":-0.26},{"m":"MuLT","g":"GSE94873","r":"High","x":0.28,"y":-0.28},{"m":"MuLT","g":"GSE94873","r":"High","x":0.3,"y":-0.3},{"m":"MuLT","g":"GSE94873","r":"High","x":0.32,"y":-0.32},{"m":"MuLT","g":"GSE94873","r":"High","x":0.34,"y":-0.34},{"m":"MuLT","g":"GSE94873","r":"High","x":0.36,"y":-0.36},{"m":"MuLT","g":"GSE94873","r":"High","x":0.38,"y":-0.38},{"m":"MuLT","g":"GSE94873","r":"High","x":0.4,"y":-0.4},{"m":"MuLT","g":"GSE94873","r":"High","x":0.42,"y":-0.42},{"m":"MuLT","g":"GSE94873","r":"High","x":0.44,"y":-0.44},{"m":"MuLT","g":"GSE94873","r":"High","x":0.46,"y":-0.46},{"m":"MuLT","g":"GSE94873","r":"High","x":0.48,"y":-0.48},{"m":"MuLT","g":"GSE94873","r":"High","x":0.5,"y":-0.5},{"m":"MuLT","g":"GSE94873","r":"High","x":0.52,"y":-0.52},{"m":"MuLT","g":"GSE94873","r":"High","x":0.54,"y":-0.54},{"m":"MuLT","g":"GSE94873","r":"High","x":0.56,"y":-0.56},{"m":"MuLT","g":"GSE94873","r":"High","x":0.58,"y":-0.58},{"m":"MuLT","g":"GSE94873","r":"High","x":0.6,"y":-0.6},{"m":"MuLT","g":"GSE94873","r":"High","x":0.62,"y":-0.62},{"m":"MuLT","g":"GSE94873","r":"High","x":0.64,"y":-0.64},{"m":"MuLT","g":"GSE94873","r":"High","x":0.66,"y":-0.66},
{"m":"SVM","g":"GSE94873","r":"Low","x":0.2,"y":0.8},{"m":"SVM","g":"GSE94873","r":"Low","x":0.35,"y":0.65},{"m":"SVM","g":"GSE94873","r":"Low","x":0.37,"y":0.63},{"m":"SVM","g":"GSE94873","r":"Low","x":0.39,"y":0.61},{"m":"SVM","g":"GSE94873","r":"Low","x":0.41,"y":0.59},{"m":"SVM","g":"GSE94873","r":"Low","x":0.43,"y":0.57},{"m":"SVM","g":"GSE94873","r":"Low","x":0.45,"y":0.55},{"m":"SVM","g":"GSE94873","r":"Low","x":0.47,"y":0.53},{"m":"SVM","g":"GSE94873","r":"Low","x":0.49,"y":0.51},{"m":"SVM","g":"GSE94873","r":"Low","x":0.51,"y":0.49},{"m":"SVM","g":"GSE94873","r":"Low","x":0.53,"y":0.47},{"m":"SVM","g":"GSE94873","r":"Low","x":0.55,"y":0.45},{"m":"SVM","g":"GSE94873","r":"Low","x":0.57,"y":0.43},{"m":"SVM","g":"GSE94873","r":"Low","x":0.59,"y":0.41},{"m":"SVM","g":"GSE94873","r":"Low","x":0.61,"y":0.39},{"m":"SVM","g":"GSE94873","r":"Low","x":0.63,"y":0.37},{"m":"SVM","g":"GSE94873","r":"Low","x":0.65,"y":0.35},{"m":"SVM","g":"GSE94873","r":"Low","x":0.67,"y":0.33},{"m":"SVM","g":"GSE94873","r":"Low","x":0.69,"y":0.31},{"m":"SVM","g":"GSE94873","r":"Low","x":0.71,"y":0.29},{"m":"SVM","g":"GSE94873","r":"Low","x":0.73,"y":0.27},{"m":"SVM","g":"GSE94873","r":"Low","x":0.75,"y":0.25},{"m":"SVM","g":"GSE94873","r":"Low","x":0.77,"y":0.23},{"m":"SVM","g":"GSE94873","r":"Low","x":0.79,"y":0.21},{"m":"SVM","g":"GSE94873","r":"Low","x":0.81,"y":0.19},{"m":"SVM","g":"GSE94873","r":"Low","x":0.83,"y":0.17},{"m":"SVM","g":"GSE94873","r":"Low","x":0.85,"y":0.15},{"m":"SVM","g":"GSE94873","r":"Low","x":0.87,"y":0.13},
{"m":"SVM","g":"GSE94873","r":"High","x":0.19,"y":-0.19},{"m":"SVM","g":"GSE94873","r":"High","x":0.21,"y":-0.21},{"m":"SVM","g":"GSE94873","r":"High","x":0.23,"y":-0.23},{"m":"SVM","g":"GSE94873","r":"High","x":0.28,"y":-0.28},{"m":"SVM","g":"GSE94873","r":"High","x":0.3,"y":-0.3},{"m":"SVM","g":"GSE94873","r":"High","x":0.32,"y":-0.32},{"m":"SVM","g":"GSE94873","r":"High","x":0.34,"y":-0.34},{"m":"SVM","g":"GSE94873","r":"High","x":0.36,"y":-0.36},{"m":"SVM","g":"GSE94873","r":"High","x":0.38,"y":-0.38},{"m":"SVM","g":"GSE94873","r":"High","x":0.4,"y":-0.4},{"m":"SVM","g":"GSE94873","r":"High","x":0.42,"y":-0.42},{"m":"SVM","g":"GSE94873","r":"High","x":0.44,"y":-0.44},{"m":"SVM","g":"GSE94873","r":"High","x":0.46,"y":-0.46},{"m":"SVM","g":"GSE94873","r":"High","x":0.48,"y":-0.48},{"m":"SVM","g":"GSE94873","r":"High","x":0.5,"y":-0.5},{"m":"SVM","g":"GSE94873","r":"High","x":0.52,"y":-0.52},{"m":"SVM","g":"GSE94873","r":"High","x":0.54,"y":-0.54},{"m":"SVM","g":"GSE94873","r":"High","x":0.56,"y":-0.56},{"m":"SVM","g":"GSE94873","r":"High","x":0.58,"y":-0.58},{"m":"SVM","g":"GSE94873","r":"High","x":0.6,"y":-0.6},{"m":"SVM","g":"GSE94873","r":"High","x":0.62,"y":-0.62},{"m":"SVM","g":"GSE94873","r":"High","x":0.64,"y":-0.64},{"m":"SVM","g":"GSE94873","r":"High","x":0.66,"y":-0.66},{"m":"SVM","g":"GSE94873","r":"High","x":0.68,"y":-0.68},{"m":"SVM","g":"GSE94873","r":"High","x":0.7,"y":-0.7},{"m":"SVM","g":"GSE94873","r":"High","x":0.72,"y":-0.72},{"m":"SVM","g":"GSE94873","r":"High","x":0.74,"y":-0.74},{"m":"SVM","g":"GSE94873","r":"High","x":0.76,"y":-0.76},{"m":"SVM","g":"GSE94873","r":"High","x":0.78,"y":-0.78},{"m":"SVM","g":"GSE94873","r":"High","x":0.8,"y":-0.8},{"m":"SVM","g":"GSE94873","r":"High","x":0.82,"y":-0.82},{"m":"SVM","g":"GSE94873","r":"High","x":0.84,"y":-0.84},{"m":"SVM","g":"GSE94873","r":"High","x":0.86,"y":-0.86},{"m":"SVM","g":"GSE94873","r":"High","x":0.87,"y":-0.87},
{"m":"KNN","g":"GSE135820","x":0,"f":0.09,"lo":0.065,"hi":0.115},{"m":"KNN","g":"GSE135820","x":0.1,"f":0.05,"lo":0.03,"hi":0.07},{"m":"KNN","g":"GSE135820","x":0.2,"f":-0.01,"lo":-0.03,"hi":0.01},{"m":"KNN","g":"GSE135820","x":0.3,"f":-0.07,"lo":-0.09,"hi":-0.05},{"m":"KNN","g":"GSE135820","x":0.4,"f":-0.12,"lo":-0.14,"hi":-0.1},{"m":"KNN","g":"GSE135820","x":0.5,"f":-0.145,"lo":-0.165,"hi":-0.125},{"m":"KNN","g":"GSE135820","x":0.6,"f":-0.16,"lo":-0.18,"hi":-0.14},{"m":"KNN","g":"GSE135820","x":0.7,"f":-0.175,"lo":-0.2,"hi":-0.15},{"m":"KNN","g":"GSE135820","x":0.8,"f":-0.185,"lo":-0.22,"hi":-0.15},{"m":"KNN","g":"GSE135820","x":0.9,"f":-0.195,"lo":-0.255,"hi":-0.135},{"m":"KNN","g":"GSE135820","x":1,"f":-0.21,"lo":-0.31,"hi":-0.11},
{"m":"LightGBM","g":"GSE135820","x":0.01,"f":0.01,"lo":-0.005,"hi":0.025},{"m":"LightGBM","g":"GSE135820","x":0.1,"f":0.04,"lo":0.028,"hi":0.052},{"m":"LightGBM","g":"GSE135820","x":0.2,"f":0.07,"lo":0.058,"hi":0.082},{"m":"LightGBM","g":"GSE135820","x":0.3,"f":0.09,"lo":0.078,"hi":0.102},{"m":"LightGBM","g":"GSE135820","x":0.4,"f":0.095,"lo":0.083,"hi":0.107},{"m":"LightGBM","g":"GSE135820","x":0.5,"f":0.09,"lo":0.075,"hi":0.105},{"m":"LightGBM","g":"GSE135820","x":0.6,"f":0.075,"lo":0.055,"hi":0.095},{"m":"LightGBM","g":"GSE135820","x":0.7,"f":0.05,"lo":0.01,"hi":0.09},{"m":"LightGBM","g":"GSE135820","x":0.8,"f":0.02,"lo":-0.05,"hi":0.09},{"m":"LightGBM","g":"GSE135820","x":0.9,"f":-0.02,"lo":-0.13,"hi":0.09},{"m":"LightGBM","g":"GSE135820","x":0.95,"f":-0.05,"lo":-0.19,"hi":0.09},
{"m":"MLP","g":"GSE135820","x":0.09,"f":-0.07,"lo":-0.18,"hi":0.04},{"m":"MLP","g":"GSE135820","x":0.15,"f":-0.1,"lo":-0.16,"hi":-0.04},{"m":"MLP","g":"GSE135820","x":0.2,"f":-0.125,"lo":-0.155,"hi":-0.095},{"m":"MLP","g":"GSE135820","x":0.3,"f":-0.165,"lo":-0.18,"hi":-0.15},{"m":"MLP","g":"GSE135820","x":0.4,"f":-0.2,"lo":-0.215,"hi":-0.185},{"m":"MLP","g":"GSE135820","x":0.5,"f":-0.235,"lo":-0.26,"hi":-0.21},
{"m":"MuLT","g":"GSE135820","x":0.04,"f":-0.025,"lo":-0.04,"hi":-0.01},{"m":"MuLT","g":"GSE135820","x":0.1,"f":-0.015,"lo":-0.027,"hi":-0.003},{"m":"MuLT","g":"GSE135820","x":0.2,"f":0.01,"lo":0,"hi":0.02},{"m":"MuLT","g":"GSE135820","x":0.3,"f":0.035,"lo":0.025,"hi":0.045},{"m":"MuLT","g":"GSE135820","x":0.4,"f":0.065,"lo":0.055,"hi":0.075},{"m":"MuLT","g":"GSE135820","x":0.5,"f":0.1,"lo":0.085,"hi":0.115},{"m":"MuLT","g":"GSE135820","x":0.6,"f":0.135,"lo":0.11,"hi":0.16},{"m":"MuLT","g":"GSE135820","x":0.7,"f":0.175,"lo":0.115,"hi":0.235},{"m":"MuLT","g":"GSE135820","x":0.74,"f":0.195,"lo":0.11,"hi":0.28},
{"m":"SVM","g":"GSE135820","x":0.187,"f":-0.03,"lo":-0.09,"hi":0.03},{"m":"SVM","g":"GSE135820","x":0.2,"f":-0.12,"lo":-0.16,"hi":-0.08},{"m":"SVM","g":"GSE135820","x":0.22,"f":-0.19,"lo":-0.22,"hi":-0.16},{"m":"SVM","g":"GSE135820","x":0.25,"f":-0.225,"lo":-0.25,"hi":-0.2},{"m":"SVM","g":"GSE135820","x":0.3,"f":-0.235,"lo":-0.255,"hi":-0.215},{"m":"SVM","g":"GSE135820","x":0.35,"f":-0.22,"lo":-0.24,"hi":-0.2},{"m":"SVM","g":"GSE135820","x":0.4,"f":-0.18,"lo":-0.2,"hi":-0.16},{"m":"SVM","g":"GSE135820","x":0.45,"f":-0.12,"lo":-0.145,"hi":-0.095},{"m":"SVM","g":"GSE135820","x":0.5,"f":-0.05,"lo":-0.08,"hi":-0.02},{"m":"SVM","g":"GSE135820","x":0.55,"f":0.03,"lo":-0.02,"hi":0.08},{"m":"SVM","g":"GSE135820","x":0.6,"f":0.11,"lo":0.03,"hi":0.19},{"m":"SVM","g":"GSE135820","x":0.65,"f":0.22,"lo":0,"hi":0.39},
{"m":"KNN","g":"GSE68465","x":0,"f":0.32,"lo":0.2,"hi":0.44},{"m":"KNN","g":"GSE68465","x":0.1,"f":0.24,"lo":0.15,"hi":0.33},{"m":"KNN","g":"GSE68465","x":0.25,"f":0.12,"lo":0.065,"hi":0.175},{"m":"KNN","g":"GSE68465","x":0.5,"f":-0.05,"lo":-0.09,"hi":-0.01},{"m":"KNN","g":"GSE68465","x":0.75,"f":-0.21,"lo":-0.27,"hi":-0.15},{"m":"KNN","g":"GSE68465","x":0.9,"f":-0.3,"lo":-0.4,"hi":-0.2},{"m":"KNN","g":"GSE68465","x":1,"f":-0.38,"lo":-0.53,"hi":-0.23},
{"m":"LightGBM","g":"GSE68465","x":0.01,"f":0.265,"lo":0.175,"hi":0.355},{"m":"LightGBM","g":"GSE68465","x":0.1,"f":0.235,"lo":0.175,"hi":0.295},{"m":"LightGBM","g":"GSE68465","x":0.25,"f":0.15,"lo":0.12,"hi":0.18},{"m":"LightGBM","g":"GSE68465","x":0.4,"f":0.03,"lo":0.005,"hi":0.055},{"m":"LightGBM","g":"GSE68465","x":0.5,"f":-0.04,"lo":-0.065,"hi":-0.015},{"m":"LightGBM","g":"GSE68465","x":0.6,"f":-0.1,"lo":-0.13,"hi":-0.07},{"m":"LightGBM","g":"GSE68465","x":0.75,"f":-0.19,"lo":-0.24,"hi":-0.14},{"m":"LightGBM","g":"GSE68465","x":0.9,"f":-0.29,"lo":-0.39,"hi":-0.19},{"m":"LightGBM","g":"GSE68465","x":0.985,"f":-0.36,"lo":-0.5,"hi":-0.22},
{"m":"MLP","g":"GSE68465","x":0.277,"f":0.07,"lo":-0.07,"hi":0.21},{"m":"MLP","g":"GSE68465","x":0.35,"f":0.04,"lo":-0.03,"hi":0.11},{"m":"MLP","g":"GSE68465","x":0.45,"f":-0.005,"lo":-0.025,"hi":0.015},{"m":"MLP","g":"GSE68465","x":0.55,"f":-0.05,"lo":-0.11,"hi":0.01},{"m":"MLP","g":"GSE68465","x":0.62,"f":-0.09,"lo":-0.21,"hi":0.03},
{"m":"MuLT","g":"GSE68465","x":0.074,"f":0.08,"lo":-0.07,"hi":0.23},{"m":"MuLT","g":"GSE68465","x":0.15,"f":0.075,"lo":-0.005,"hi":0.155},{"m":"MuLT","g":"GSE68465","x":0.25,"f":0.065,"lo":0.025,"hi":0.105},{"m":"MuLT","g":"GSE68465","x":0.35,"f":0.06,"lo":0.03,"hi":0.09},{"m":"MuLT","g":"GSE68465","x":0.45,"f":0.04,"lo":0.01,"hi":0.07},{"m":"MuLT","g":"GSE68465","x":0.55,"f":-0.01,"lo":-0.05,"hi":0.03},{"m":"MuLT","g":"GSE68465","x":0.65,"f":-0.08,"lo":-0.16,"hi":0},{"m":"MuLT","g":"GSE68465","x":0.75,"f":-0.15,"lo":-0.28,"hi":-0.02},{"m":"MuLT","g":"GSE68465","x":0.885,"f":-0.25,"lo":-0.47,"hi":-0.03},
{"m":"SVM","g":"GSE68465","x":0.231,"f":0.06,"lo":-0.27,"hi":0.47},{"m":"SVM","g":"GSE68465","x":0.27,"f":0.03,"lo":-0.2,"hi":0.3},{"m":"SVM","g":"GSE68465","x":0.305,"f":-0.01,"lo":-0.2,"hi":0.2},{"m":"SVM","g":"GSE68465","x":0.35,"f":-0.06,"lo":-0.2,"hi":0.1},{"m":"SVM","g":"GSE68465","x":0.4,"f":-0.1,"lo":-0.2,"hi":0.02},{"m":"SVM","g":"GSE68465","x":0.43,"f":-0.06,"lo":-0.15,"hi":0.05},{"m":"SVM","g":"GSE68465","x":0.46,"f":0.04,"lo":-0.1,"hi":0.2},{"m":"SVM","g":"GSE68465","x":0.49,"f":0.12,"lo":-0.02,"hi":0.27},{"m":"SVM","g":"GSE68465","x":0.52,"f":0.11,"lo":-0.05,"hi":0.28},{"m":"SVM","g":"GSE68465","x":0.55,"f":0.03,"lo":-0.15,"hi":0.23},{"m":"SVM","g":"GSE68465","x":0.58,"f":-0.06,"lo":-0.35,"hi":0.22},{"m":"SVM","g":"GSE68465","x":0.62,"f":-0.17,"lo":-0.6,"hi":0.25},{"m":"SVM","g":"GSE68465","x":0.654,"f":-0.29,"lo":-0.85,"hi":0.27},
{"m":"KNN","g":"GSE94873","x":0,"f":0.2,"lo":0.14,"hi":0.26},{"m":"KNN","g":"GSE94873","x":0.25,"f":0.1,"lo":0.07,"hi":0.13},{"m":"KNN","g":"GSE94873","x":0.5,"f":0,"lo":-0.025,"hi":0.025},{"m":"KNN","g":"GSE94873","x":0.75,"f":-0.13,"lo":-0.165,"hi":-0.095},{"m":"KNN","g":"GSE94873","x":1,"f":-0.27,"lo":-0.34,"hi":-0.2},
{"m":"LightGBM","g":"GSE94873","x":0.01,"f":0.15,"lo":0.09,"hi":0.21},{"m":"LightGBM","g":"GSE94873","x":0.2,"f":0.12,"lo":0.09,"hi":0.15},{"m":"LightGBM","g":"GSE94873","x":0.4,"f":0.07,"lo":0.045,"hi":0.095},{"m":"LightGBM","g":"GSE94873","x":0.5,"f":0.04,"lo":0.015,"hi":0.065},{"m":"LightGBM","g":"GSE94873","x":0.6,"f":0,"lo":-0.025,"hi":0.025},{"m":"LightGBM","g":"GSE94873","x":0.8,"f":-0.1,"lo":-0.135,"hi":-0.065},{"m":"LightGBM","g":"GSE94873","x":0.985,"f":-0.26,"lo":-0.33,"hi":-0.19},
{"m":"MLP","g":"GSE94873","x":0.34,"f":0.02,"lo":-0.05,"hi":0.09},{"m":"MLP","g":"GSE94873","x":0.4,"f":0,"lo":-0.03,"hi":0.03},{"m":"MLP","g":"GSE94873","x":0.47,"f":-0.02,"lo":-0.04,"hi":0},{"m":"MLP","g":"GSE94873","x":0.54,"f":-0.045,"lo":-0.075,"hi":-0.015},{"m":"MLP","g":"GSE94873","x":0.6,"f":-0.07,"lo":-0.14,"hi":0},
{"m":"MuLT","g":"GSE94873","x":0.24,"f":-0.1,"lo":-0.15,"hi":-0.05},{"m":"MuLT","g":"GSE94873","x":0.35,"f":-0.06,"lo":-0.085,"hi":-0.035},{"m":"MuLT","g":"GSE94873","x":0.45,"f":-0.01,"lo":-0.03,"hi":0.01},{"m":"MuLT","g":"GSE94873","x":0.55,"f":0.04,"lo":0.015,"hi":0.065},{"m":"MuLT","g":"GSE94873","x":0.67,"f":0.09,"lo":0.04,"hi":0.14},
{"m":"SVM","g":"GSE94873","x":0.19,"f":0.12,"lo":-0.4,"hi":0.65},{"m":"SVM","g":"GSE94873","x":0.23,"f":0,"lo":-0.3,"hi":0.35},{"m":"SVM","g":"GSE94873","x":0.27,"f":-0.12,"lo":-0.3,"hi":0.1},{"m":"SVM","g":"GSE94873","x":0.31,"f":-0.19,"lo":-0.35,"hi":0},{"m":"SVM","g":"GSE94873","x":0.35,"f":-0.18,"lo":-0.33,"hi":0},{"m":"SVM","g":"GSE94873","x":0.4,"f":-0.08,"lo":-0.2,"hi":0.05},{"m":"SVM","g":"GSE94873","x":0.44,"f":0,"lo":-0.08,"hi":0.08},{"m":"SVM","g":"GSE94873","x":0.47,"f":-0.03,"lo":-0.12,"hi":0.05},{"m":"SVM","g":"GSE94873","x":0.5,"f":-0.08,"lo":-0.25,"hi":0.1},{"m":"SVM","g":"GSE94873","x":0.55,"f":-0.1,"lo":-0.3,"hi":0.15},{"m":"SVM","g":"GSE94873","x":0.6,"f":-0.1,"lo":-0.28,"hi":0.1},{"m":"SVM","g":"GSE94873","x":0.65,"f":-0.1,"lo":-0.3,"hi":0.12},{"m":"SVM","g":"GSE94873","x":0.7,"f":-0.11,"lo":-0.25,"hi":0.05},{"m":"SVM","g":"GSE94873","x":0.75,"f":-0.14,"lo":-0.28,"hi":0},{"m":"SVM","g":"GSE94873","x":0.8,"f":-0.22,"lo":-0.36,"hi":-0.08},{"m":"SVM","g":"GSE94873","x":0.85,"f":-0.38,"lo":-0.55,"hi":-0.22},{"m":"SVM","g":"GSE94873","x":0.88,"f":-0.5,"lo":-0.72,"hi":-0.3},
{"m":"KNN","g":"GSE135820","t1":"R² = 0.047","t2":"MSE = 0.1432"},{"m":"LightGBM","g":"GSE135820","t1":"R² = 0.0598","t2":"MSE = 0.129"},{"m":"MLP","g":"GSE135820","t1":"R² = 0.0581","t2":"MSE = 0.1906"},{"m":"MuLT","g":"GSE135820","t1":"R² = 0.079","t2":"MSE = 0.1257"},{"m":"SVM","g":"GSE135820","t1":"R² = 0.0039","t2":"MSE = 0.1561"},
{"m":"KNN","g":"GSE68465","t1":"R² = 1e-04","t2":"MSE = 0.2852"},{"m":"LightGBM","g":"GSE68465","t1":"R² = 0.0042","t2":"MSE = 0.2754"},{"m":"MLP","g":"GSE68465","t1":"R² = 4e-04","t2":"MSE = 0.2483"},{"m":"MuLT","g":"GSE68465","t1":"R² = 0.0194","t2":"MSE = 0.2383"},{"m":"SVM","g":"GSE68465","t1":"R² = 0.0125","t2":"MSE = 0.2442"},
{"m":"KNN","g":"GSE94873","t1":"R² = 0.0057","t2":"MSE = 0.2439"},{"m":"LightGBM","g":"GSE94873","t1":"R² = 0.0114","t2":"MSE = 0.2362"},{"m":"MLP","g":"GSE94873","t1":"R² = 0.004","t2":"MSE = 0.2483"},{"m":"MuLT","g":"GSE94873","t1":"R² = 0.0334","t2":"MSE = 0.2263"},{"m":"SVM","g":"GSE94873","t1":"R² = 0.045","t2":"MSE = 0.2508"},
{"m":"KNN","g":"GSE135820","s":"c"},{"m":"LightGBM","g":"GSE135820","s":"c"},{"m":"MLP","g":"GSE135820","s":"c"},{"m":"MuLT","g":"GSE135820","s":"c"},{"m":"SVM","g":"GSE135820","s":"c"},
{"m":"SVM","g":"GSE135820","s":"r"},{"m":"SVM","g":"GSE68465","s":"r"},{"m":"SVM","g":"GSE94873","s":"r"},
{"m":"KNN","g":"GSE94873","s":"l"}
]},
"facet":{
"row":{"field":"g","type":"nominal","sort":["GSE135820","GSE68465","GSE94873"],"title":"Residuals","header":{"labels":false,"titleOrient":"left","titlePadding":-2}},
"column":{"field":"m","type":"nominal","sort":["KNN","LightGBM","MLP","MuLT","SVM"],"title":"Predicted Values","header":{"labels":false,"titleOrient":"bottom","titlePadding":0}}
},
"spacing":{"row":15,"column":15},
"spec":{
"width":224,"height":199,
"layer":[
{"transform":[{"filter":"isValid(datum.t1)"}],"mark":{"type":"rule","color":"#BEBEBE","strokeDash":[9,6],"strokeWidth":1.5},
 "encoding":{"y":{"datum":0,"type":"quantitative","scale":{"domain":[-1.1,1.1],"nice":false,"zero":false},"axis":{"title":null,"values":[-1,-0.5,0,0.5,1],"format":".1f"}}}},
{"transform":[{"filter":"isValid(datum.r)"}],"mark":{"type":"circle","size":30,"opacity":1},
 "encoding":{
 "x":{"field":"x","type":"quantitative","scale":{"domain":[-0.05,1.05],"nice":false,"zero":false},"axis":{"title":null,"values":[0,0.25,0.5,0.75,1],"format":".2f","labelAngle":-45,"labelAlign":"right","labelBaseline":"top"}},
 "y":{"field":"y","type":"quantitative","scale":{"domain":[-1.1,1.1],"nice":false,"zero":false},"axis":{"title":null,"values":[-1,-0.5,0,0.5,1],"format":".1f"}},
 "color":{"field":"r","type":"nominal","scale":{"domain":["High","Low"],"range":["#F8766D","#00BFC4"]},
  "legend":{"title":"Risk","orient":"none","legendX":449,"legendY":-121,"direction":"horizontal","titleOrient":"left","titleFont":"Liberation Serif","titleFontSize":28,"titleFontWeight":"normal","titleColor":"black","labelFont":"Liberation Serif","labelFontSize":23,"labelColor":"black","symbolSize":30,"symbolType":"circle","symbolStrokeWidth":0,"labelOffset":25,"columnPadding":26,"titlePadding":23,"padding":0}}}},
{"transform":[{"filter":"isValid(datum.f)"}],"mark":{"type":"area","color":"#999999","opacity":0.4,"interpolate":"monotone"},
 "encoding":{"x":{"field":"x","type":"quantitative","scale":{"domain":[-0.05,1.05],"nice":false,"zero":false}},"y":{"field":"lo","type":"quantitative","scale":{"domain":[-1.1,1.1],"nice":false,"zero":false}},"y2":{"field":"hi"}}},
{"transform":[{"filter":"isValid(datum.f)"}],"mark":{"type":"line","color":"#3366FF","strokeWidth":4,"interpolate":"monotone"},
 "encoding":{"x":{"field":"x","type":"quantitative","scale":{"domain":[-0.05,1.05],"nice":false,"zero":false}},"y":{"field":"f","type":"quantitative","scale":{"domain":[-1.1,1.1],"nice":false,"zero":false}}}},
{"transform":[{"filter":"isValid(datum.t1)"}],"mark":{"type":"text","font":"Liberation Serif","fontSize":22,"color":"black","align":"center","baseline":"middle"},
 "encoding":{"x":{"datum":0.7,"type":"quantitative"},"y":{"datum":0.84,"type":"quantitative"},"text":{"field":"t1"}}},
{"transform":[{"filter":"isValid(datum.t1)"}],"mark":{"type":"text","font":"Liberation Serif","fontSize":22,"color":"black","align":"center","baseline":"middle"},
 "encoding":{"x":{"datum":0.35,"type":"quantitative"},"y":{"datum":-0.85,"type":"quantitative"},"text":{"field":"t2"}}},
{"transform":[{"filter":"datum.s === 'c'"}],"mark":{"type":"rect","fill":"#D9D9D9","stroke":"#333333","strokeWidth":1.2,"clip":false},
 "encoding":{"x":{"datum":-0.05,"type":"quantitative"},"x2":{"datum":1.05},"y":{"datum":1.108,"type":"quantitative"},"y2":{"datum":1.57}}},
{"transform":[{"filter":"datum.s === 'c'"}],"mark":{"type":"text","font":"Liberation Serif","fontSize":22,"color":"#1A1A1A","align":"center","baseline":"middle","clip":false},
 "encoding":{"x":{"datum":0.5,"type":"quantitative"},"y":{"datum":1.338,"type":"quantitative"},"text":{"field":"m"}}},
{"transform":[{"filter":"datum.s === 'r'"}],"mark":{"type":"rect","fill":"#D9D9D9","stroke":"#333333","strokeWidth":1.2,"clip":false},
 "encoding":{"x":{"datum":1.055,"type":"quantitative"},"x2":{"datum":1.26},"y":{"datum":-1.1,"type":"quantitative"},"y2":{"datum":1.1}}},
{"transform":[{"filter":"datum.s === 'r'"}],"mark":{"type":"text","font":"Liberation Serif","fontSize":22,"color":"#1A1A1A","align":"center","baseline":"middle","angle":90,"clip":false},
 "encoding":{"x":{"datum":1.1575,"type":"quantitative"},"y":{"datum":0,"type":"quantitative"},"text":{"field":"g"}}},
{"transform":[{"filter":"datum.s === 'l'"}],"mark":{"type":"rect","fill":"white","opacity":0,"clip":false},
 "encoding":{"x":{"datum":-0.256,"type":"quantitative"},"x2":{"datum":-0.06},"y":{"datum":-1.574,"type":"quantitative"},"y2":{"datum":-1.11}}}
]},
"config":{
"locale":{"number":{"decimal":".","thousands":",","grouping":[3],"currency":["$",""],"minus":"-"}},
"view":{"stroke":"#333333","strokeWidth":1.2},
"axis":{"domain":false,"grid":false,"tickColor":"#333333","tickSize":5,"tickWidth":1.1,"labelFont":"Liberation Serif","labelFontSize":22,"labelColor":"#4D4D4D","labelPadding":3},
"header":{"titleFont":"Liberation Serif","titleFontSize":28,"titleFontWeight":"normal","titleColor":"black"}
}
}
